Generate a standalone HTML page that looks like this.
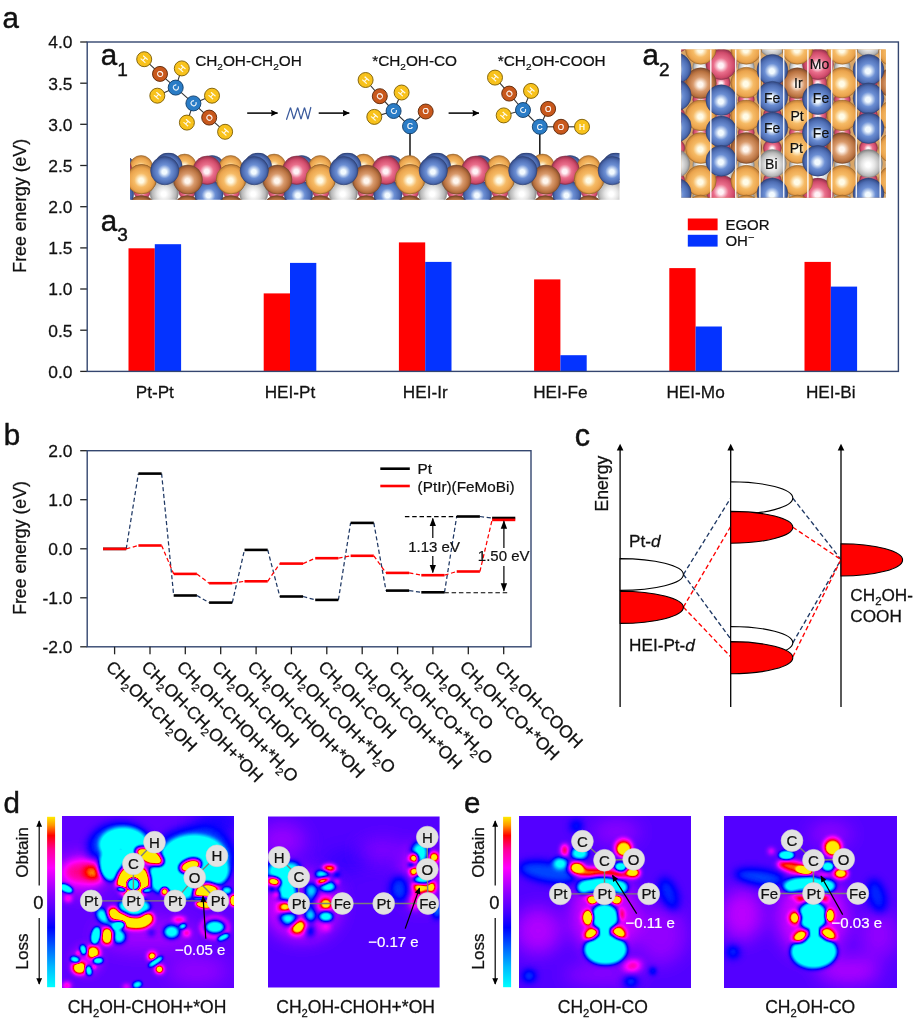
<!DOCTYPE html><html><head><meta charset="utf-8"><title>Figure</title>
<style>html,body{margin:0;padding:0;background:#fff}svg{display:block}text{font-family:"Liberation Sans", sans-serif;fill:#111;stroke:#111;stroke-width:0.015em}</style></head><body>
<svg width="915" height="1024" viewBox="0 0 915 1024">
<rect width="915" height="1024" fill="#fff"/>
<defs>
<radialGradient id="gPt" cx="0.5" cy="0.52" r="0.5" fx="0.48" fy="0.55"><stop offset="0" stop-color="#fffbe6"/><stop offset="0.16" stop-color="#fffbe6"/><stop offset="0.48" stop-color="#f6bb66"/><stop offset="0.82" stop-color="#eaa34c"/><stop offset="1" stop-color="#c0803a"/></radialGradient>
<radialGradient id="gIr" cx="0.5" cy="0.52" r="0.5" fx="0.48" fy="0.55"><stop offset="0" stop-color="#fff6ee"/><stop offset="0.16" stop-color="#fff6ee"/><stop offset="0.48" stop-color="#d99a6c"/><stop offset="0.82" stop-color="#b8713f"/><stop offset="1" stop-color="#8a5230"/></radialGradient>
<radialGradient id="gFe" cx="0.5" cy="0.52" r="0.5" fx="0.48" fy="0.55"><stop offset="0" stop-color="#f2faff"/><stop offset="0.16" stop-color="#f2faff"/><stop offset="0.48" stop-color="#6c8fd4"/><stop offset="0.82" stop-color="#4d6cb2"/><stop offset="1" stop-color="#364d88"/></radialGradient>
<radialGradient id="gMo" cx="0.5" cy="0.52" r="0.5" fx="0.48" fy="0.55"><stop offset="0" stop-color="#fff2f6"/><stop offset="0.16" stop-color="#fff2f6"/><stop offset="0.48" stop-color="#ea6f8c"/><stop offset="0.82" stop-color="#cf4a6a"/><stop offset="1" stop-color="#9a3550"/></radialGradient>
<radialGradient id="gBi" cx="0.5" cy="0.52" r="0.5" fx="0.48" fy="0.55"><stop offset="0" stop-color="#ffffff"/><stop offset="0.16" stop-color="#ffffff"/><stop offset="0.48" stop-color="#e4e4e4"/><stop offset="0.82" stop-color="#b9b9b9"/><stop offset="1" stop-color="#8c8c8c"/></radialGradient>
<marker id="ah" viewBox="0 0 10 10" refX="9" refY="5" markerWidth="7" markerHeight="7" orient="auto-start-reverse"><path d="M0,1.2 L10,5 L0,8.8 Z" fill="#000"/></marker>
<marker id="aha" viewBox="0 0 10 10" refX="9.5" refY="5" markerUnits="userSpaceOnUse" markerWidth="7" markerHeight="7" orient="auto"><path d="M0,0.3 L10,5 L0,9.7 L1.2,5 Z" fill="#000"/></marker>
<clipPath id="clipSlab"><rect x="130" y="152.8" width="489.5" height="47"/></clipPath>
<clipPath id="clipTop"><rect x="681.2" y="49.4" width="204.6" height="148.3"/></clipPath>
</defs>
<g id="panelA">
<text x="2.6" y="27.6" font-size="29.5" text-anchor="start" >a</text>
<text transform="translate(25.8,205.8) rotate(-90)" font-size="17.7" text-anchor="middle">Free energy (eV)</text>
<line x1="80.2" y1="371.4" x2="87.2" y2="371.4" stroke="#222" stroke-width="1.3"/>
<text x="72.5" y="377.8" font-size="17.4" text-anchor="end" >0.0</text>
<line x1="80.2" y1="330.2" x2="87.2" y2="330.2" stroke="#222" stroke-width="1.3"/>
<text x="72.5" y="336.6" font-size="17.4" text-anchor="end" >0.5</text>
<line x1="80.2" y1="289.0" x2="87.2" y2="289.0" stroke="#222" stroke-width="1.3"/>
<text x="72.5" y="295.4" font-size="17.4" text-anchor="end" >1.0</text>
<line x1="80.2" y1="247.9" x2="87.2" y2="247.9" stroke="#222" stroke-width="1.3"/>
<text x="72.5" y="254.3" font-size="17.4" text-anchor="end" >1.5</text>
<line x1="80.2" y1="206.7" x2="87.2" y2="206.7" stroke="#222" stroke-width="1.3"/>
<text x="72.5" y="213.1" font-size="17.4" text-anchor="end" >2.0</text>
<line x1="80.2" y1="165.5" x2="87.2" y2="165.5" stroke="#222" stroke-width="1.3"/>
<text x="72.5" y="171.9" font-size="17.4" text-anchor="end" >2.5</text>
<line x1="80.2" y1="124.3" x2="87.2" y2="124.3" stroke="#222" stroke-width="1.3"/>
<text x="72.5" y="130.8" font-size="17.4" text-anchor="end" >3.0</text>
<line x1="80.2" y1="83.2" x2="87.2" y2="83.2" stroke="#222" stroke-width="1.3"/>
<text x="72.5" y="89.6" font-size="17.4" text-anchor="end" >3.5</text>
<line x1="80.2" y1="42.0" x2="87.2" y2="42.0" stroke="#222" stroke-width="1.3"/>
<text x="72.5" y="48.4" font-size="17.4" text-anchor="end" >4.0</text>
<rect x="128.5" y="248.3" width="26.3" height="123.1" fill="#ff0000"/>
<rect x="154.8" y="244.2" width="26.3" height="127.2" fill="#0433ff"/>
<text x="154.8" y="397.6" font-size="17.2" text-anchor="middle" >Pt-Pt</text>
<rect x="263.7" y="293.4" width="26.3" height="78.0" fill="#ff0000"/>
<rect x="290.0" y="262.9" width="26.3" height="108.5" fill="#0433ff"/>
<text x="290.0" y="397.6" font-size="17.2" text-anchor="middle" >HEI-Pt</text>
<rect x="398.9" y="242.4" width="26.3" height="129.0" fill="#ff0000"/>
<rect x="425.2" y="261.9" width="26.3" height="109.5" fill="#0433ff"/>
<text x="425.2" y="397.6" font-size="17.2" text-anchor="middle" >HEI-Ir</text>
<rect x="534.1" y="279.4" width="26.3" height="92.0" fill="#ff0000"/>
<rect x="560.4" y="355.2" width="26.3" height="16.2" fill="#0433ff"/>
<text x="560.4" y="397.6" font-size="17.2" text-anchor="middle" >HEI-Fe</text>
<rect x="669.3" y="268.1" width="26.3" height="103.3" fill="#ff0000"/>
<rect x="695.6" y="326.5" width="26.3" height="44.9" fill="#0433ff"/>
<text x="695.6" y="397.6" font-size="17.2" text-anchor="middle" >HEI-Mo</text>
<rect x="804.5" y="261.9" width="26.3" height="109.5" fill="#ff0000"/>
<rect x="830.8" y="286.6" width="26.3" height="84.8" fill="#0433ff"/>
<text x="830.8" y="397.6" font-size="17.2" text-anchor="middle" >HEI-Bi</text>
<rect x="87.2" y="42.0" width="811.1999999999999" height="329.4" fill="none" stroke="#34466f" stroke-width="1.4"/>
<rect x="687.8" y="218.5" width="29.8" height="11.8" fill="#ff0000"/>
<rect x="687.8" y="234.8" width="29.8" height="11.8" fill="#0433ff"/>
<text x="725.4" y="229.9" font-size="15" text-anchor="start" >EGOR</text>
<text x="725.4" y="246.3" font-size="15" text-anchor="start" >OH<tspan dy="-5" font-size="11">−</tspan></text>
<text x="100.8" y="65.4" font-size="29.5" text-anchor="start" >a<tspan dy="10.5" font-size="19">1</tspan></text>
<text x="642.6" y="65.4" font-size="29.5" text-anchor="start" >a<tspan dy="10.5" font-size="19">2</tspan></text>
<text x="100.8" y="230.8" font-size="29.5" text-anchor="start" >a<tspan dy="10.5" font-size="19">3</tspan></text>
<text x="195.2" y="66.4" font-size="15.35" text-anchor="start" >CH<tspan dy="3.2" font-size="65%">2</tspan><tspan dy="-3.2">OH-CH</tspan><tspan dy="3.2" font-size="65%">2</tspan><tspan dy="-3.2">OH</tspan></text>
<text x="372.2" y="66.4" font-size="15.35" text-anchor="start" >*CH<tspan dy="3.2" font-size="65%">2</tspan><tspan dy="-3.2">OH-CO</tspan></text>
<text x="497.8" y="66.4" font-size="15.35" text-anchor="start" >*CH<tspan dy="3.2" font-size="65%">2</tspan><tspan dy="-3.2">OH-COOH</tspan></text>
<line x1="247.2" y1="113.1" x2="277.6" y2="113.1" stroke="#000" stroke-width="1.5" marker-end="url(#aha)"/>
<line x1="318.7" y1="113.1" x2="349.3" y2="113.1" stroke="#000" stroke-width="1.5" marker-end="url(#aha)"/>
<line x1="448.6" y1="113.1" x2="479.0" y2="113.1" stroke="#000" stroke-width="1.5" marker-end="url(#aha)"/>
<path d="M286.6,119.3 L289.80,109.62 Q290.50,106.30 291.09,109.62 L293.21,117.18 Q293.80,120.50 294.50,117.18 L297.00,109.62 Q297.70,106.30 298.29,109.62 L300.41,117.18 Q301.00,120.50 301.63,117.18 L303.87,109.62 Q304.50,106.30 305.11,109.62 L307.29,117.18 Q307.90,120.50 308.42,117.18 L310.8,107.5" fill="none" stroke="#3a5a9c" stroke-width="1.25" stroke-linejoin="round" stroke-linecap="round"/>
<line x1="144.2" y1="59.2" x2="160" y2="73.9" stroke="#333" stroke-width="1.1"/>
<line x1="160" y1="73.9" x2="175.7" y2="87.6" stroke="#333" stroke-width="1.1"/>
<line x1="181.8" y1="68.4" x2="175.7" y2="87.6" stroke="#333" stroke-width="1.1"/>
<line x1="157.3" y1="95.7" x2="175.7" y2="87.6" stroke="#333" stroke-width="1.1"/>
<line x1="175.7" y1="87.6" x2="193.4" y2="103.4" stroke="#333" stroke-width="1.1"/>
<line x1="193.4" y1="103.4" x2="212" y2="95.7" stroke="#333" stroke-width="1.1"/>
<line x1="193.4" y1="103.4" x2="186.9" y2="122.6" stroke="#333" stroke-width="1.1"/>
<line x1="193.4" y1="103.4" x2="209.2" y2="117.6" stroke="#333" stroke-width="1.1"/>
<line x1="209.2" y1="117.6" x2="225.1" y2="131.8" stroke="#333" stroke-width="1.1"/>
<circle cx="144.2" cy="59.2" r="7.5" fill="#f8c21c" stroke="#7a5a00" stroke-width="0.9"/>
<text transform="translate(144.2,59.2) rotate(-50)" y="2.9" font-size="8.2" text-anchor="middle" style="fill:#fff;stroke:#fff;stroke-width:0.2px">H</text>
<circle cx="160" cy="73.9" r="7.5" fill="#c8581c" stroke="#5a2506" stroke-width="0.9"/>
<text transform="translate(160,73.9) rotate(-50)" y="2.9" font-size="8.2" text-anchor="middle" style="fill:#fff;stroke:#fff;stroke-width:0.2px">O</text>
<circle cx="181.8" cy="68.4" r="7.5" fill="#f8c21c" stroke="#7a5a00" stroke-width="0.9"/>
<text transform="translate(181.8,68.4) rotate(-50)" y="2.9" font-size="8.2" text-anchor="middle" style="fill:#fff;stroke:#fff;stroke-width:0.2px">H</text>
<circle cx="175.7" cy="87.6" r="7.5" fill="#2a7cc6" stroke="#0f3b66" stroke-width="0.9"/>
<text transform="translate(175.7,87.6) rotate(-50)" y="2.9" font-size="8.2" text-anchor="middle" style="fill:#fff;stroke:#fff;stroke-width:0.2px">C</text>
<circle cx="157.3" cy="95.7" r="7.5" fill="#f8c21c" stroke="#7a5a00" stroke-width="0.9"/>
<text transform="translate(157.3,95.7) rotate(-50)" y="2.9" font-size="8.2" text-anchor="middle" style="fill:#fff;stroke:#fff;stroke-width:0.2px">H</text>
<circle cx="193.4" cy="103.4" r="7.5" fill="#2a7cc6" stroke="#0f3b66" stroke-width="0.9"/>
<text transform="translate(193.4,103.4) rotate(-50)" y="2.9" font-size="8.2" text-anchor="middle" style="fill:#fff;stroke:#fff;stroke-width:0.2px">C</text>
<circle cx="212" cy="95.7" r="7.5" fill="#f8c21c" stroke="#7a5a00" stroke-width="0.9"/>
<text transform="translate(212,95.7) rotate(-50)" y="2.9" font-size="8.2" text-anchor="middle" style="fill:#fff;stroke:#fff;stroke-width:0.2px">H</text>
<circle cx="186.9" cy="122.6" r="7.5" fill="#f8c21c" stroke="#7a5a00" stroke-width="0.9"/>
<text transform="translate(186.9,122.6) rotate(-50)" y="2.9" font-size="8.2" text-anchor="middle" style="fill:#fff;stroke:#fff;stroke-width:0.2px">H</text>
<circle cx="209.2" cy="117.6" r="7.5" fill="#c8581c" stroke="#5a2506" stroke-width="0.9"/>
<text transform="translate(209.2,117.6) rotate(-50)" y="2.9" font-size="8.2" text-anchor="middle" style="fill:#fff;stroke:#fff;stroke-width:0.2px">O</text>
<circle cx="225.1" cy="131.8" r="7.5" fill="#f8c21c" stroke="#7a5a00" stroke-width="0.9"/>
<text transform="translate(225.1,131.8) rotate(-50)" y="2.9" font-size="8.2" text-anchor="middle" style="fill:#fff;stroke:#fff;stroke-width:0.2px">H</text>
<line x1="410" y1="126" x2="410" y2="160" stroke="#222" stroke-width="1.6"/>
<line x1="365.6" y1="80" x2="379.8" y2="96.2" stroke="#333" stroke-width="1.1"/>
<line x1="379.8" y1="96.2" x2="393.6" y2="111" stroke="#333" stroke-width="1.1"/>
<line x1="401.6" y1="92.5" x2="393.6" y2="111" stroke="#333" stroke-width="1.1"/>
<line x1="374.3" y1="116.9" x2="393.6" y2="111" stroke="#333" stroke-width="1.1"/>
<line x1="393.6" y1="111" x2="410" y2="126.3" stroke="#333" stroke-width="1.1"/>
<line x1="410" y1="126.3" x2="425.7" y2="111.5" stroke="#333" stroke-width="1.1"/>
<circle cx="365.6" cy="80" r="7.5" fill="#f8c21c" stroke="#7a5a00" stroke-width="0.9"/>
<text transform="translate(365.6,80) rotate(-50)" y="2.9" font-size="8.2" text-anchor="middle" style="fill:#fff;stroke:#fff;stroke-width:0.2px">H</text>
<circle cx="379.8" cy="96.2" r="7.5" fill="#c8581c" stroke="#5a2506" stroke-width="0.9"/>
<text transform="translate(379.8,96.2) rotate(-50)" y="2.9" font-size="8.2" text-anchor="middle" style="fill:#fff;stroke:#fff;stroke-width:0.2px">O</text>
<circle cx="401.6" cy="92.5" r="7.5" fill="#f8c21c" stroke="#7a5a00" stroke-width="0.9"/>
<text transform="translate(401.6,92.5) rotate(-50)" y="2.9" font-size="8.2" text-anchor="middle" style="fill:#fff;stroke:#fff;stroke-width:0.2px">H</text>
<circle cx="393.6" cy="111" r="7.5" fill="#2a7cc6" stroke="#0f3b66" stroke-width="0.9"/>
<text transform="translate(393.6,111) rotate(-50)" y="2.9" font-size="8.2" text-anchor="middle" style="fill:#fff;stroke:#fff;stroke-width:0.2px">C</text>
<circle cx="374.3" cy="116.9" r="7.5" fill="#f8c21c" stroke="#7a5a00" stroke-width="0.9"/>
<text transform="translate(374.3,116.9) rotate(-50)" y="2.9" font-size="8.2" text-anchor="middle" style="fill:#fff;stroke:#fff;stroke-width:0.2px">H</text>
<circle cx="410" cy="126.3" r="7.5" fill="#2a7cc6" stroke="#0f3b66" stroke-width="0.9"/>
<text transform="translate(410,126.3) rotate(0)" y="2.9" font-size="8.2" text-anchor="middle" style="fill:#fff;stroke:#fff;stroke-width:0.2px">C</text>
<circle cx="425.7" cy="111.5" r="7.5" fill="#c8581c" stroke="#5a2506" stroke-width="0.9"/>
<text transform="translate(425.7,111.5) rotate(0)" y="2.9" font-size="8.2" text-anchor="middle" style="fill:#fff;stroke:#fff;stroke-width:0.2px">O</text>
<line x1="539.8" y1="126" x2="539.8" y2="160" stroke="#222" stroke-width="1.6"/>
<line x1="495" y1="77.6" x2="509.2" y2="93.6" stroke="#333" stroke-width="1.1"/>
<line x1="509.2" y1="93.6" x2="523" y2="110" stroke="#333" stroke-width="1.1"/>
<line x1="531" y1="90.9" x2="523" y2="110" stroke="#333" stroke-width="1.1"/>
<line x1="503.7" y1="115.4" x2="523" y2="110" stroke="#333" stroke-width="1.1"/>
<line x1="523" y1="110" x2="539.8" y2="126.8" stroke="#333" stroke-width="1.1"/>
<line x1="548.1" y1="108.9" x2="539.8" y2="126.8" stroke="#333" stroke-width="1.1"/>
<line x1="539.8" y1="126.8" x2="561" y2="126.8" stroke="#333" stroke-width="1.1"/>
<line x1="561" y1="126.8" x2="582" y2="126.8" stroke="#333" stroke-width="1.1"/>
<circle cx="495" cy="77.6" r="7.5" fill="#f8c21c" stroke="#7a5a00" stroke-width="0.9"/>
<text transform="translate(495,77.6) rotate(-50)" y="2.9" font-size="8.2" text-anchor="middle" style="fill:#fff;stroke:#fff;stroke-width:0.2px">H</text>
<circle cx="509.2" cy="93.6" r="7.5" fill="#c8581c" stroke="#5a2506" stroke-width="0.9"/>
<text transform="translate(509.2,93.6) rotate(-50)" y="2.9" font-size="8.2" text-anchor="middle" style="fill:#fff;stroke:#fff;stroke-width:0.2px">O</text>
<circle cx="531" cy="90.9" r="7.5" fill="#f8c21c" stroke="#7a5a00" stroke-width="0.9"/>
<text transform="translate(531,90.9) rotate(-50)" y="2.9" font-size="8.2" text-anchor="middle" style="fill:#fff;stroke:#fff;stroke-width:0.2px">H</text>
<circle cx="523" cy="110" r="7.5" fill="#2a7cc6" stroke="#0f3b66" stroke-width="0.9"/>
<text transform="translate(523,110) rotate(-50)" y="2.9" font-size="8.2" text-anchor="middle" style="fill:#fff;stroke:#fff;stroke-width:0.2px">C</text>
<circle cx="503.7" cy="115.4" r="7.5" fill="#f8c21c" stroke="#7a5a00" stroke-width="0.9"/>
<text transform="translate(503.7,115.4) rotate(-50)" y="2.9" font-size="8.2" text-anchor="middle" style="fill:#fff;stroke:#fff;stroke-width:0.2px">H</text>
<circle cx="548.1" cy="108.9" r="7.5" fill="#c8581c" stroke="#5a2506" stroke-width="0.9"/>
<text transform="translate(548.1,108.9) rotate(0)" y="2.9" font-size="8.2" text-anchor="middle" style="fill:#fff;stroke:#fff;stroke-width:0.2px">O</text>
<circle cx="539.8" cy="126.8" r="7.5" fill="#2a7cc6" stroke="#0f3b66" stroke-width="0.9"/>
<text transform="translate(539.8,126.8) rotate(0)" y="2.9" font-size="8.2" text-anchor="middle" style="fill:#fff;stroke:#fff;stroke-width:0.2px">C</text>
<circle cx="561" cy="126.8" r="7.5" fill="#c8581c" stroke="#5a2506" stroke-width="0.9"/>
<text transform="translate(561,126.8) rotate(0)" y="2.9" font-size="8.2" text-anchor="middle" style="fill:#fff;stroke:#fff;stroke-width:0.2px">O</text>
<circle cx="582" cy="126.8" r="7.5" fill="#f8c21c" stroke="#7a5a00" stroke-width="0.9"/>
<text transform="translate(582,126.8) rotate(0)" y="2.9" font-size="8.2" text-anchor="middle" style="fill:#fff;stroke:#fff;stroke-width:0.2px">H</text>
<g clip-path="url(#clipSlab)">
<circle cx="52.6" cy="191.0" r="8.5" fill="url(#gMo)" stroke="#7d2b42" stroke-width="0.5"/>
<circle cx="97.6" cy="191.0" r="8.5" fill="url(#gMo)" stroke="#7d2b42" stroke-width="0.5"/>
<circle cx="142.1" cy="191.0" r="8.5" fill="url(#gMo)" stroke="#7d2b42" stroke-width="0.5"/>
<circle cx="187.1" cy="191.0" r="8.5" fill="url(#gMo)" stroke="#7d2b42" stroke-width="0.5"/>
<circle cx="231.6" cy="191.0" r="8.5" fill="url(#gMo)" stroke="#7d2b42" stroke-width="0.5"/>
<circle cx="276.6" cy="191.0" r="8.5" fill="url(#gMo)" stroke="#7d2b42" stroke-width="0.5"/>
<circle cx="321.1" cy="191.0" r="8.5" fill="url(#gMo)" stroke="#7d2b42" stroke-width="0.5"/>
<circle cx="366.1" cy="191.0" r="8.5" fill="url(#gMo)" stroke="#7d2b42" stroke-width="0.5"/>
<circle cx="410.6" cy="191.0" r="8.5" fill="url(#gMo)" stroke="#7d2b42" stroke-width="0.5"/>
<circle cx="455.6" cy="191.0" r="8.5" fill="url(#gMo)" stroke="#7d2b42" stroke-width="0.5"/>
<circle cx="500.1" cy="191.0" r="8.5" fill="url(#gMo)" stroke="#7d2b42" stroke-width="0.5"/>
<circle cx="545.1" cy="191.0" r="8.5" fill="url(#gMo)" stroke="#7d2b42" stroke-width="0.5"/>
<circle cx="589.6" cy="191.0" r="8.5" fill="url(#gMo)" stroke="#7d2b42" stroke-width="0.5"/>
<circle cx="634.6" cy="191.0" r="8.5" fill="url(#gMo)" stroke="#7d2b42" stroke-width="0.5"/>
<circle cx="679.1" cy="191.0" r="8.5" fill="url(#gMo)" stroke="#7d2b42" stroke-width="0.5"/>
<circle cx="724.1" cy="191.0" r="8.5" fill="url(#gMo)" stroke="#7d2b42" stroke-width="0.5"/>
<circle cx="51.1" cy="210.0" r="14.2" fill="url(#gIr)" stroke="#6e4227" stroke-width="0.5"/>
<circle cx="98.1" cy="210.0" r="14.2" fill="url(#gIr)" stroke="#6e4227" stroke-width="0.5"/>
<circle cx="142.1" cy="210.0" r="14.2" fill="url(#gIr)" stroke="#6e4227" stroke-width="0.5"/>
<circle cx="8.1" cy="210.0" r="14.2" fill="url(#gIr)" stroke="#6e4227" stroke-width="0.5"/>
<circle cx="140.6" cy="210.0" r="14.2" fill="url(#gIr)" stroke="#6e4227" stroke-width="0.5"/>
<circle cx="187.6" cy="210.0" r="14.2" fill="url(#gIr)" stroke="#6e4227" stroke-width="0.5"/>
<circle cx="231.6" cy="210.0" r="14.2" fill="url(#gIr)" stroke="#6e4227" stroke-width="0.5"/>
<circle cx="97.6" cy="210.0" r="14.2" fill="url(#gIr)" stroke="#6e4227" stroke-width="0.5"/>
<circle cx="230.1" cy="210.0" r="14.2" fill="url(#gIr)" stroke="#6e4227" stroke-width="0.5"/>
<circle cx="277.1" cy="210.0" r="14.2" fill="url(#gIr)" stroke="#6e4227" stroke-width="0.5"/>
<circle cx="321.1" cy="210.0" r="14.2" fill="url(#gIr)" stroke="#6e4227" stroke-width="0.5"/>
<circle cx="187.1" cy="210.0" r="14.2" fill="url(#gIr)" stroke="#6e4227" stroke-width="0.5"/>
<circle cx="319.6" cy="210.0" r="14.2" fill="url(#gIr)" stroke="#6e4227" stroke-width="0.5"/>
<circle cx="366.6" cy="210.0" r="14.2" fill="url(#gIr)" stroke="#6e4227" stroke-width="0.5"/>
<circle cx="410.6" cy="210.0" r="14.2" fill="url(#gIr)" stroke="#6e4227" stroke-width="0.5"/>
<circle cx="276.6" cy="210.0" r="14.2" fill="url(#gIr)" stroke="#6e4227" stroke-width="0.5"/>
<circle cx="409.1" cy="210.0" r="14.2" fill="url(#gIr)" stroke="#6e4227" stroke-width="0.5"/>
<circle cx="456.1" cy="210.0" r="14.2" fill="url(#gIr)" stroke="#6e4227" stroke-width="0.5"/>
<circle cx="500.1" cy="210.0" r="14.2" fill="url(#gIr)" stroke="#6e4227" stroke-width="0.5"/>
<circle cx="366.1" cy="210.0" r="14.2" fill="url(#gIr)" stroke="#6e4227" stroke-width="0.5"/>
<circle cx="498.6" cy="210.0" r="14.2" fill="url(#gIr)" stroke="#6e4227" stroke-width="0.5"/>
<circle cx="545.6" cy="210.0" r="14.2" fill="url(#gIr)" stroke="#6e4227" stroke-width="0.5"/>
<circle cx="589.6" cy="210.0" r="14.2" fill="url(#gIr)" stroke="#6e4227" stroke-width="0.5"/>
<circle cx="455.6" cy="210.0" r="14.2" fill="url(#gIr)" stroke="#6e4227" stroke-width="0.5"/>
<circle cx="588.1" cy="210.0" r="14.2" fill="url(#gIr)" stroke="#6e4227" stroke-width="0.5"/>
<circle cx="635.1" cy="210.0" r="14.2" fill="url(#gIr)" stroke="#6e4227" stroke-width="0.5"/>
<circle cx="679.1" cy="210.0" r="14.2" fill="url(#gIr)" stroke="#6e4227" stroke-width="0.5"/>
<circle cx="545.1" cy="210.0" r="14.2" fill="url(#gIr)" stroke="#6e4227" stroke-width="0.5"/>
<circle cx="677.6" cy="210.0" r="14.2" fill="url(#gIr)" stroke="#6e4227" stroke-width="0.5"/>
<circle cx="724.6" cy="210.0" r="14.2" fill="url(#gIr)" stroke="#6e4227" stroke-width="0.5"/>
<circle cx="768.6" cy="210.0" r="14.2" fill="url(#gIr)" stroke="#6e4227" stroke-width="0.5"/>
<circle cx="634.6" cy="210.0" r="14.2" fill="url(#gIr)" stroke="#6e4227" stroke-width="0.5"/>
<circle cx="74.7" cy="192.8" r="14.2" fill="url(#gBi)" stroke="#808080" stroke-width="0.5"/>
<circle cx="119.4" cy="194.2" r="14.2" fill="url(#gFe)" stroke="#2a3b6b" stroke-width="0.5"/>
<circle cx="164.2" cy="192.8" r="14.2" fill="url(#gBi)" stroke="#808080" stroke-width="0.5"/>
<circle cx="208.9" cy="194.2" r="14.2" fill="url(#gFe)" stroke="#2a3b6b" stroke-width="0.5"/>
<circle cx="253.7" cy="192.8" r="14.2" fill="url(#gBi)" stroke="#808080" stroke-width="0.5"/>
<circle cx="298.4" cy="194.2" r="14.2" fill="url(#gFe)" stroke="#2a3b6b" stroke-width="0.5"/>
<circle cx="343.2" cy="192.8" r="14.2" fill="url(#gBi)" stroke="#808080" stroke-width="0.5"/>
<circle cx="387.9" cy="194.2" r="14.2" fill="url(#gFe)" stroke="#2a3b6b" stroke-width="0.5"/>
<circle cx="432.7" cy="192.8" r="14.2" fill="url(#gBi)" stroke="#808080" stroke-width="0.5"/>
<circle cx="477.4" cy="194.2" r="14.2" fill="url(#gFe)" stroke="#2a3b6b" stroke-width="0.5"/>
<circle cx="522.2" cy="192.8" r="14.2" fill="url(#gBi)" stroke="#808080" stroke-width="0.5"/>
<circle cx="566.9" cy="194.2" r="14.2" fill="url(#gFe)" stroke="#2a3b6b" stroke-width="0.5"/>
<circle cx="611.7" cy="192.8" r="14.2" fill="url(#gBi)" stroke="#808080" stroke-width="0.5"/>
<circle cx="656.4" cy="194.2" r="14.2" fill="url(#gFe)" stroke="#2a3b6b" stroke-width="0.5"/>
<circle cx="701.2" cy="192.8" r="14.2" fill="url(#gBi)" stroke="#808080" stroke-width="0.5"/>
<circle cx="745.9" cy="194.2" r="14.2" fill="url(#gFe)" stroke="#2a3b6b" stroke-width="0.5"/>
<circle cx="51.6" cy="167.0" r="11.5" fill="url(#gPt)" stroke="#8a5a22" stroke-width="0.5"/>
<circle cx="95.1" cy="165.6" r="11.5" fill="url(#gPt)" stroke="#8a5a22" stroke-width="0.5"/>
<circle cx="78.9" cy="166.6" r="13.8" fill="url(#gFe)" stroke="#2a3b6b" stroke-width="0.5"/>
<circle cx="122.6" cy="168.0" r="12.5" fill="url(#gFe)" stroke="#2a3b6b" stroke-width="0.5"/>
<circle cx="141.1" cy="167.0" r="11.5" fill="url(#gPt)" stroke="#8a5a22" stroke-width="0.5"/>
<circle cx="184.6" cy="165.6" r="11.5" fill="url(#gPt)" stroke="#8a5a22" stroke-width="0.5"/>
<circle cx="168.4" cy="166.6" r="13.8" fill="url(#gFe)" stroke="#2a3b6b" stroke-width="0.5"/>
<circle cx="212.1" cy="168.0" r="12.5" fill="url(#gFe)" stroke="#2a3b6b" stroke-width="0.5"/>
<circle cx="230.6" cy="167.0" r="11.5" fill="url(#gPt)" stroke="#8a5a22" stroke-width="0.5"/>
<circle cx="274.1" cy="165.6" r="11.5" fill="url(#gPt)" stroke="#8a5a22" stroke-width="0.5"/>
<circle cx="257.9" cy="166.6" r="13.8" fill="url(#gFe)" stroke="#2a3b6b" stroke-width="0.5"/>
<circle cx="301.6" cy="168.0" r="12.5" fill="url(#gFe)" stroke="#2a3b6b" stroke-width="0.5"/>
<circle cx="320.1" cy="167.0" r="11.5" fill="url(#gPt)" stroke="#8a5a22" stroke-width="0.5"/>
<circle cx="363.6" cy="165.6" r="11.5" fill="url(#gPt)" stroke="#8a5a22" stroke-width="0.5"/>
<circle cx="347.4" cy="166.6" r="13.8" fill="url(#gFe)" stroke="#2a3b6b" stroke-width="0.5"/>
<circle cx="391.1" cy="168.0" r="12.5" fill="url(#gFe)" stroke="#2a3b6b" stroke-width="0.5"/>
<circle cx="409.6" cy="167.0" r="11.5" fill="url(#gPt)" stroke="#8a5a22" stroke-width="0.5"/>
<circle cx="453.1" cy="165.6" r="11.5" fill="url(#gPt)" stroke="#8a5a22" stroke-width="0.5"/>
<circle cx="436.9" cy="166.6" r="13.8" fill="url(#gFe)" stroke="#2a3b6b" stroke-width="0.5"/>
<circle cx="480.6" cy="168.0" r="12.5" fill="url(#gFe)" stroke="#2a3b6b" stroke-width="0.5"/>
<circle cx="499.1" cy="167.0" r="11.5" fill="url(#gPt)" stroke="#8a5a22" stroke-width="0.5"/>
<circle cx="542.6" cy="165.6" r="11.5" fill="url(#gPt)" stroke="#8a5a22" stroke-width="0.5"/>
<circle cx="526.4" cy="166.6" r="13.8" fill="url(#gFe)" stroke="#2a3b6b" stroke-width="0.5"/>
<circle cx="570.1" cy="168.0" r="12.5" fill="url(#gFe)" stroke="#2a3b6b" stroke-width="0.5"/>
<circle cx="588.6" cy="167.0" r="11.5" fill="url(#gPt)" stroke="#8a5a22" stroke-width="0.5"/>
<circle cx="632.1" cy="165.6" r="11.5" fill="url(#gPt)" stroke="#8a5a22" stroke-width="0.5"/>
<circle cx="615.9" cy="166.6" r="13.8" fill="url(#gFe)" stroke="#2a3b6b" stroke-width="0.5"/>
<circle cx="659.6" cy="168.0" r="12.5" fill="url(#gFe)" stroke="#2a3b6b" stroke-width="0.5"/>
<circle cx="678.1" cy="167.0" r="11.5" fill="url(#gPt)" stroke="#8a5a22" stroke-width="0.5"/>
<circle cx="721.6" cy="165.6" r="11.5" fill="url(#gPt)" stroke="#8a5a22" stroke-width="0.5"/>
<circle cx="705.4" cy="166.6" r="13.8" fill="url(#gFe)" stroke="#2a3b6b" stroke-width="0.5"/>
<circle cx="749.1" cy="168.0" r="12.5" fill="url(#gFe)" stroke="#2a3b6b" stroke-width="0.5"/>
<circle cx="117.7" cy="170.2" r="14.2" fill="url(#gMo)" stroke="#7d2b42" stroke-width="0.5"/>
<circle cx="52.1" cy="179.2" r="14.7" fill="url(#gPt)" stroke="#8a5a22" stroke-width="0.5"/>
<circle cx="141.6" cy="179.2" r="14.7" fill="url(#gPt)" stroke="#8a5a22" stroke-width="0.5"/>
<circle cx="98.4" cy="179.6" r="14.6" fill="url(#gIr)" stroke="#6e4227" stroke-width="0.5"/>
<circle cx="75.3" cy="170.6" r="14.2" fill="url(#gFe)" stroke="#2a3b6b" stroke-width="0.5"/>
<circle cx="207.2" cy="170.2" r="14.2" fill="url(#gMo)" stroke="#7d2b42" stroke-width="0.5"/>
<circle cx="141.6" cy="179.2" r="14.7" fill="url(#gPt)" stroke="#8a5a22" stroke-width="0.5"/>
<circle cx="231.1" cy="179.2" r="14.7" fill="url(#gPt)" stroke="#8a5a22" stroke-width="0.5"/>
<circle cx="187.9" cy="179.6" r="14.6" fill="url(#gIr)" stroke="#6e4227" stroke-width="0.5"/>
<circle cx="164.8" cy="170.6" r="14.2" fill="url(#gFe)" stroke="#2a3b6b" stroke-width="0.5"/>
<circle cx="296.7" cy="170.2" r="14.2" fill="url(#gMo)" stroke="#7d2b42" stroke-width="0.5"/>
<circle cx="231.1" cy="179.2" r="14.7" fill="url(#gPt)" stroke="#8a5a22" stroke-width="0.5"/>
<circle cx="320.6" cy="179.2" r="14.7" fill="url(#gPt)" stroke="#8a5a22" stroke-width="0.5"/>
<circle cx="277.4" cy="179.6" r="14.6" fill="url(#gIr)" stroke="#6e4227" stroke-width="0.5"/>
<circle cx="254.3" cy="170.6" r="14.2" fill="url(#gFe)" stroke="#2a3b6b" stroke-width="0.5"/>
<circle cx="386.2" cy="170.2" r="14.2" fill="url(#gMo)" stroke="#7d2b42" stroke-width="0.5"/>
<circle cx="320.6" cy="179.2" r="14.7" fill="url(#gPt)" stroke="#8a5a22" stroke-width="0.5"/>
<circle cx="410.1" cy="179.2" r="14.7" fill="url(#gPt)" stroke="#8a5a22" stroke-width="0.5"/>
<circle cx="366.9" cy="179.6" r="14.6" fill="url(#gIr)" stroke="#6e4227" stroke-width="0.5"/>
<circle cx="343.8" cy="170.6" r="14.2" fill="url(#gFe)" stroke="#2a3b6b" stroke-width="0.5"/>
<circle cx="475.7" cy="170.2" r="14.2" fill="url(#gMo)" stroke="#7d2b42" stroke-width="0.5"/>
<circle cx="410.1" cy="179.2" r="14.7" fill="url(#gPt)" stroke="#8a5a22" stroke-width="0.5"/>
<circle cx="499.6" cy="179.2" r="14.7" fill="url(#gPt)" stroke="#8a5a22" stroke-width="0.5"/>
<circle cx="456.4" cy="179.6" r="14.6" fill="url(#gIr)" stroke="#6e4227" stroke-width="0.5"/>
<circle cx="433.3" cy="170.6" r="14.2" fill="url(#gFe)" stroke="#2a3b6b" stroke-width="0.5"/>
<circle cx="565.2" cy="170.2" r="14.2" fill="url(#gMo)" stroke="#7d2b42" stroke-width="0.5"/>
<circle cx="499.6" cy="179.2" r="14.7" fill="url(#gPt)" stroke="#8a5a22" stroke-width="0.5"/>
<circle cx="589.1" cy="179.2" r="14.7" fill="url(#gPt)" stroke="#8a5a22" stroke-width="0.5"/>
<circle cx="545.9" cy="179.6" r="14.6" fill="url(#gIr)" stroke="#6e4227" stroke-width="0.5"/>
<circle cx="522.8" cy="170.6" r="14.2" fill="url(#gFe)" stroke="#2a3b6b" stroke-width="0.5"/>
<circle cx="654.7" cy="170.2" r="14.2" fill="url(#gMo)" stroke="#7d2b42" stroke-width="0.5"/>
<circle cx="589.1" cy="179.2" r="14.7" fill="url(#gPt)" stroke="#8a5a22" stroke-width="0.5"/>
<circle cx="678.6" cy="179.2" r="14.7" fill="url(#gPt)" stroke="#8a5a22" stroke-width="0.5"/>
<circle cx="635.4" cy="179.6" r="14.6" fill="url(#gIr)" stroke="#6e4227" stroke-width="0.5"/>
<circle cx="612.3" cy="170.6" r="14.2" fill="url(#gFe)" stroke="#2a3b6b" stroke-width="0.5"/>
<circle cx="744.2" cy="170.2" r="14.2" fill="url(#gMo)" stroke="#7d2b42" stroke-width="0.5"/>
<circle cx="678.6" cy="179.2" r="14.7" fill="url(#gPt)" stroke="#8a5a22" stroke-width="0.5"/>
<circle cx="768.1" cy="179.2" r="14.7" fill="url(#gPt)" stroke="#8a5a22" stroke-width="0.5"/>
<circle cx="724.9" cy="179.6" r="14.6" fill="url(#gIr)" stroke="#6e4227" stroke-width="0.5"/>
<circle cx="701.8" cy="170.6" r="14.2" fill="url(#gFe)" stroke="#2a3b6b" stroke-width="0.5"/>
</g>
<g clip-path="url(#clipTop)">
<rect x="681" y="49" width="206" height="150" fill="#d9a566"/>
<circle cx="675.8" cy="82.6" r="9" fill="url(#gMo)" stroke="#7d2b42" stroke-width="0.5"/>
<circle cx="675.8" cy="115.3" r="9" fill="url(#gMo)" stroke="#7d2b42" stroke-width="0.5"/>
<circle cx="675.8" cy="148.0" r="9" fill="url(#gMo)" stroke="#7d2b42" stroke-width="0.5"/>
<circle cx="675.8" cy="180.7" r="9" fill="url(#gMo)" stroke="#7d2b42" stroke-width="0.5"/>
<circle cx="721.3" cy="82.6" r="9" fill="url(#gMo)" stroke="#7d2b42" stroke-width="0.5"/>
<circle cx="721.3" cy="115.3" r="9" fill="url(#gMo)" stroke="#7d2b42" stroke-width="0.5"/>
<circle cx="721.3" cy="148.0" r="9" fill="url(#gMo)" stroke="#7d2b42" stroke-width="0.5"/>
<circle cx="721.3" cy="180.7" r="9" fill="url(#gMo)" stroke="#7d2b42" stroke-width="0.5"/>
<circle cx="772.4" cy="82.6" r="9" fill="url(#gMo)" stroke="#7d2b42" stroke-width="0.5"/>
<circle cx="772.4" cy="115.3" r="9" fill="url(#gMo)" stroke="#7d2b42" stroke-width="0.5"/>
<circle cx="772.4" cy="148.0" r="9" fill="url(#gMo)" stroke="#7d2b42" stroke-width="0.5"/>
<circle cx="772.4" cy="180.7" r="9" fill="url(#gMo)" stroke="#7d2b42" stroke-width="0.5"/>
<circle cx="817.9" cy="82.6" r="9" fill="url(#gMo)" stroke="#7d2b42" stroke-width="0.5"/>
<circle cx="817.9" cy="115.3" r="9" fill="url(#gMo)" stroke="#7d2b42" stroke-width="0.5"/>
<circle cx="817.9" cy="148.0" r="9" fill="url(#gMo)" stroke="#7d2b42" stroke-width="0.5"/>
<circle cx="817.9" cy="180.7" r="9" fill="url(#gMo)" stroke="#7d2b42" stroke-width="0.5"/>
<circle cx="868.5" cy="82.6" r="9" fill="url(#gMo)" stroke="#7d2b42" stroke-width="0.5"/>
<circle cx="868.5" cy="115.3" r="9" fill="url(#gMo)" stroke="#7d2b42" stroke-width="0.5"/>
<circle cx="868.5" cy="148.0" r="9" fill="url(#gMo)" stroke="#7d2b42" stroke-width="0.5"/>
<circle cx="868.5" cy="180.7" r="9" fill="url(#gMo)" stroke="#7d2b42" stroke-width="0.5"/>
<circle cx="700.8" cy="67.0" r="8" fill="url(#gBi)" stroke="#808080" stroke-width="0.5"/>
<circle cx="700.8" cy="99.7" r="8" fill="url(#gMo)" stroke="#7d2b42" stroke-width="0.5"/>
<circle cx="700.8" cy="132.4" r="8" fill="url(#gMo)" stroke="#7d2b42" stroke-width="0.5"/>
<circle cx="700.8" cy="165.0" r="8" fill="url(#gBi)" stroke="#808080" stroke-width="0.5"/>
<circle cx="700.8" cy="196.3" r="8" fill="url(#gBi)" stroke="#808080" stroke-width="0.5"/>
<circle cx="746.3" cy="67.0" r="8" fill="url(#gBi)" stroke="#808080" stroke-width="0.5"/>
<circle cx="746.3" cy="99.7" r="8" fill="url(#gMo)" stroke="#7d2b42" stroke-width="0.5"/>
<circle cx="746.3" cy="132.4" r="8" fill="url(#gMo)" stroke="#7d2b42" stroke-width="0.5"/>
<circle cx="746.3" cy="165.0" r="8" fill="url(#gBi)" stroke="#808080" stroke-width="0.5"/>
<circle cx="746.3" cy="196.3" r="8" fill="url(#gBi)" stroke="#808080" stroke-width="0.5"/>
<circle cx="797.4" cy="67.0" r="8" fill="url(#gBi)" stroke="#808080" stroke-width="0.5"/>
<circle cx="797.4" cy="99.7" r="8" fill="url(#gMo)" stroke="#7d2b42" stroke-width="0.5"/>
<circle cx="797.4" cy="132.4" r="8" fill="url(#gMo)" stroke="#7d2b42" stroke-width="0.5"/>
<circle cx="797.4" cy="165.0" r="8" fill="url(#gBi)" stroke="#808080" stroke-width="0.5"/>
<circle cx="797.4" cy="196.3" r="8" fill="url(#gBi)" stroke="#808080" stroke-width="0.5"/>
<circle cx="842.3" cy="67.0" r="8" fill="url(#gBi)" stroke="#808080" stroke-width="0.5"/>
<circle cx="842.3" cy="99.7" r="8" fill="url(#gMo)" stroke="#7d2b42" stroke-width="0.5"/>
<circle cx="842.3" cy="132.4" r="8" fill="url(#gMo)" stroke="#7d2b42" stroke-width="0.5"/>
<circle cx="842.3" cy="165.0" r="8" fill="url(#gBi)" stroke="#808080" stroke-width="0.5"/>
<circle cx="842.3" cy="196.3" r="8" fill="url(#gBi)" stroke="#808080" stroke-width="0.5"/>
<circle cx="894.0" cy="67.0" r="8" fill="url(#gBi)" stroke="#808080" stroke-width="0.5"/>
<circle cx="894.0" cy="99.7" r="8" fill="url(#gMo)" stroke="#7d2b42" stroke-width="0.5"/>
<circle cx="894.0" cy="132.4" r="8" fill="url(#gMo)" stroke="#7d2b42" stroke-width="0.5"/>
<circle cx="894.0" cy="165.0" r="8" fill="url(#gBi)" stroke="#808080" stroke-width="0.5"/>
<circle cx="894.0" cy="196.3" r="8" fill="url(#gBi)" stroke="#808080" stroke-width="0.5"/>
<circle cx="772.4" cy="42.8" r="14" fill="url(#gBi)" stroke="#808080" stroke-width="0.5"/>
<circle cx="868.5" cy="42.8" r="14" fill="url(#gBi)" stroke="#808080" stroke-width="0.5"/>
<circle cx="675.8" cy="163.6" r="14" fill="url(#gBi)" stroke="#808080" stroke-width="0.5"/>
<circle cx="772.4" cy="163.6" r="14" fill="url(#gBi)" stroke="#808080" stroke-width="0.5"/>
<circle cx="868.5" cy="163.6" r="14" fill="url(#gBi)" stroke="#808080" stroke-width="0.5"/>
<circle cx="721.3" cy="174.1" r="14" fill="url(#gBi)" stroke="#808080" stroke-width="0.5"/>
<circle cx="817.9" cy="174.1" r="14" fill="url(#gBi)" stroke="#808080" stroke-width="0.5"/>
<circle cx="675.8" cy="37.2" r="15.4" fill="url(#gMo)" stroke="#7d2b42" stroke-width="0.5"/>
<circle cx="721.3" cy="64.2" r="15.4" fill="url(#gMo)" stroke="#7d2b42" stroke-width="0.5"/>
<circle cx="817.9" cy="64.2" r="15.4" fill="url(#gMo)" stroke="#7d2b42" stroke-width="0.5"/>
<circle cx="721.3" cy="190.6" r="15.4" fill="url(#gMo)" stroke="#7d2b42" stroke-width="0.5"/>
<circle cx="817.9" cy="193.5" r="15.4" fill="url(#gMo)" stroke="#7d2b42" stroke-width="0.5"/>
<circle cx="700.8" cy="48.8" r="15.4" fill="url(#gPt)" stroke="#8a5a22" stroke-width="0.5"/>
<circle cx="746.3" cy="48.8" r="15.4" fill="url(#gPt)" stroke="#8a5a22" stroke-width="0.5"/>
<circle cx="797.4" cy="48.8" r="15.4" fill="url(#gPt)" stroke="#8a5a22" stroke-width="0.5"/>
<circle cx="842.3" cy="48.8" r="15.4" fill="url(#gPt)" stroke="#8a5a22" stroke-width="0.5"/>
<circle cx="648.5" cy="51.4" r="15.4" fill="url(#gPt)" stroke="#8a5a22" stroke-width="0.5"/>
<circle cx="894.0" cy="51.4" r="15.4" fill="url(#gPt)" stroke="#8a5a22" stroke-width="0.5"/>
<circle cx="648.5" cy="82.6" r="15.4" fill="url(#gIr)" stroke="#6e4227" stroke-width="0.5"/>
<circle cx="746.3" cy="82.6" r="15.4" fill="url(#gPt)" stroke="#8a5a22" stroke-width="0.5"/>
<circle cx="842.3" cy="82.6" r="15.4" fill="url(#gPt)" stroke="#8a5a22" stroke-width="0.5"/>
<circle cx="894.0" cy="82.6" r="15.4" fill="url(#gIr)" stroke="#6e4227" stroke-width="0.5"/>
<circle cx="700.8" cy="83.2" r="15.4" fill="url(#gIr)" stroke="#6e4227" stroke-width="0.5"/>
<circle cx="797.4" cy="83.2" r="15.4" fill="url(#gIr)" stroke="#6e4227" stroke-width="0.5"/>
<circle cx="648.5" cy="115.3" r="15.4" fill="url(#gPt)" stroke="#8a5a22" stroke-width="0.5"/>
<circle cx="700.8" cy="115.3" r="15.4" fill="url(#gPt)" stroke="#8a5a22" stroke-width="0.5"/>
<circle cx="746.3" cy="115.3" r="15.4" fill="url(#gPt)" stroke="#8a5a22" stroke-width="0.5"/>
<circle cx="797.4" cy="115.3" r="15.4" fill="url(#gPt)" stroke="#8a5a22" stroke-width="0.5"/>
<circle cx="842.3" cy="115.3" r="15.4" fill="url(#gPt)" stroke="#8a5a22" stroke-width="0.5"/>
<circle cx="894.0" cy="115.3" r="15.4" fill="url(#gPt)" stroke="#8a5a22" stroke-width="0.5"/>
<circle cx="648.5" cy="148.0" r="15.4" fill="url(#gPt)" stroke="#8a5a22" stroke-width="0.5"/>
<circle cx="700.8" cy="148.0" r="15.4" fill="url(#gPt)" stroke="#8a5a22" stroke-width="0.5"/>
<circle cx="746.3" cy="148.0" r="15.4" fill="url(#gIr)" stroke="#6e4227" stroke-width="0.5"/>
<circle cx="797.4" cy="148.0" r="15.4" fill="url(#gPt)" stroke="#8a5a22" stroke-width="0.5"/>
<circle cx="842.3" cy="148.0" r="15.4" fill="url(#gIr)" stroke="#6e4227" stroke-width="0.5"/>
<circle cx="894.0" cy="148.0" r="15.4" fill="url(#gPt)" stroke="#8a5a22" stroke-width="0.5"/>
<circle cx="648.5" cy="180.7" r="15.4" fill="url(#gPt)" stroke="#8a5a22" stroke-width="0.5"/>
<circle cx="700.8" cy="180.7" r="15.4" fill="url(#gPt)" stroke="#8a5a22" stroke-width="0.5"/>
<circle cx="746.3" cy="180.7" r="15.4" fill="url(#gPt)" stroke="#8a5a22" stroke-width="0.5"/>
<circle cx="797.4" cy="180.7" r="15.4" fill="url(#gPt)" stroke="#8a5a22" stroke-width="0.5"/>
<circle cx="842.3" cy="180.7" r="15.4" fill="url(#gPt)" stroke="#8a5a22" stroke-width="0.5"/>
<circle cx="894.0" cy="180.7" r="15.4" fill="url(#gPt)" stroke="#8a5a22" stroke-width="0.5"/>
<circle cx="700.8" cy="210.5" r="15.4" fill="url(#gPt)" stroke="#8a5a22" stroke-width="0.5"/>
<circle cx="746.3" cy="210.5" r="15.4" fill="url(#gPt)" stroke="#8a5a22" stroke-width="0.5"/>
<circle cx="797.4" cy="210.5" r="15.4" fill="url(#gPt)" stroke="#8a5a22" stroke-width="0.5"/>
<circle cx="842.3" cy="210.5" r="15.4" fill="url(#gPt)" stroke="#8a5a22" stroke-width="0.5"/>
<circle cx="675.8" cy="68.4" r="15.4" fill="url(#gFe)" stroke="#2a3b6b" stroke-width="0.5"/>
<circle cx="772.4" cy="69.8" r="15.4" fill="url(#gFe)" stroke="#2a3b6b" stroke-width="0.5"/>
<circle cx="868.5" cy="69.8" r="15.4" fill="url(#gFe)" stroke="#2a3b6b" stroke-width="0.5"/>
<circle cx="675.8" cy="95.4" r="15.4" fill="url(#gFe)" stroke="#2a3b6b" stroke-width="0.5"/>
<circle cx="772.4" cy="96.8" r="15.4" fill="url(#gFe)" stroke="#2a3b6b" stroke-width="0.5"/>
<circle cx="868.5" cy="98.3" r="15.4" fill="url(#gFe)" stroke="#2a3b6b" stroke-width="0.5"/>
<circle cx="817.9" cy="99.1" r="15.4" fill="url(#gFe)" stroke="#2a3b6b" stroke-width="0.5"/>
<circle cx="721.3" cy="100.2" r="15.4" fill="url(#gFe)" stroke="#2a3b6b" stroke-width="0.5"/>
<circle cx="675.8" cy="126.7" r="15.4" fill="url(#gFe)" stroke="#2a3b6b" stroke-width="0.5"/>
<circle cx="772.4" cy="127.5" r="15.4" fill="url(#gFe)" stroke="#2a3b6b" stroke-width="0.5"/>
<circle cx="868.5" cy="128.1" r="15.4" fill="url(#gFe)" stroke="#2a3b6b" stroke-width="0.5"/>
<circle cx="721.3" cy="131.5" r="15.4" fill="url(#gFe)" stroke="#2a3b6b" stroke-width="0.5"/>
<circle cx="817.9" cy="132.4" r="15.4" fill="url(#gFe)" stroke="#2a3b6b" stroke-width="0.5"/>
<circle cx="721.3" cy="160.8" r="15.4" fill="url(#gFe)" stroke="#2a3b6b" stroke-width="0.5"/>
<circle cx="817.9" cy="160.8" r="15.4" fill="url(#gFe)" stroke="#2a3b6b" stroke-width="0.5"/>
<circle cx="675.8" cy="193.5" r="15.4" fill="url(#gFe)" stroke="#2a3b6b" stroke-width="0.5"/>
<circle cx="772.4" cy="193.5" r="15.4" fill="url(#gFe)" stroke="#2a3b6b" stroke-width="0.5"/>
<circle cx="868.5" cy="193.5" r="15.4" fill="url(#gFe)" stroke="#2a3b6b" stroke-width="0.5"/>
<line x1="710.8" y1="49" x2="710.8" y2="198" stroke="#fff" stroke-width="1.5" opacity="0.88"/>
<line x1="735.7" y1="49" x2="735.7" y2="198" stroke="#fff" stroke-width="1.5" opacity="0.88"/>
<line x1="759.9" y1="49" x2="759.9" y2="198" stroke="#fff" stroke-width="1.5" opacity="0.88"/>
<line x1="783.7" y1="49" x2="783.7" y2="198" stroke="#fff" stroke-width="1.5" opacity="0.88"/>
<line x1="807.9" y1="49" x2="807.9" y2="198" stroke="#fff" stroke-width="1.5" opacity="0.88"/>
<line x1="831.7" y1="49" x2="831.7" y2="198" stroke="#fff" stroke-width="1.5" opacity="0.88"/>
<line x1="856.3" y1="49" x2="856.3" y2="198" stroke="#fff" stroke-width="1.5" opacity="0.88"/>
<line x1="880.2" y1="49" x2="880.2" y2="198" stroke="#fff" stroke-width="1.5" opacity="0.88"/>
</g>
<text x="819.6" y="69.2" font-size="14" text-anchor="middle" >Mo</text>
<text x="798.3" y="87.6" font-size="14" text-anchor="middle" >Ir</text>
<text x="772.1" y="103.3" font-size="14" text-anchor="middle" >Fe</text>
<text x="821.0" y="103.3" font-size="14" text-anchor="middle" >Fe</text>
<text x="797.1" y="121.2" font-size="14" text-anchor="middle" >Pt</text>
<text x="772.1" y="133.1" font-size="14" text-anchor="middle" >Fe</text>
<text x="821.0" y="138.2" font-size="14" text-anchor="middle" >Fe</text>
<text x="796.3" y="153.0" font-size="14" text-anchor="middle" >Pt</text>
<text x="771.3" y="169.2" font-size="14" text-anchor="middle" >Bi</text>
</g>
<g id="panelB">
<text x="3.8" y="445.0" font-size="29.5" text-anchor="start" >b</text>
<text transform="translate(25.8,548.0) rotate(-90)" font-size="17.7" text-anchor="middle">Free energy (eV)</text>
<line x1="80.2" y1="450.7" x2="87.2" y2="450.7" stroke="#222" stroke-width="1.3"/>
<text x="72.5" y="457.1" font-size="17.4" text-anchor="end" >2.0</text>
<line x1="80.2" y1="499.7" x2="87.2" y2="499.7" stroke="#222" stroke-width="1.3"/>
<text x="72.5" y="506.1" font-size="17.4" text-anchor="end" >1.0</text>
<line x1="80.2" y1="548.8" x2="87.2" y2="548.8" stroke="#222" stroke-width="1.3"/>
<text x="72.5" y="555.1" font-size="17.4" text-anchor="end" >0.0</text>
<line x1="80.2" y1="597.8" x2="87.2" y2="597.8" stroke="#222" stroke-width="1.3"/>
<text x="72.5" y="604.2" font-size="17.4" text-anchor="end" >-1.0</text>
<line x1="80.2" y1="646.8" x2="87.2" y2="646.8" stroke="#222" stroke-width="1.3"/>
<text x="72.5" y="653.2" font-size="17.4" text-anchor="end" >-2.0</text>
<path d="M126.2,548.9 L138.4,473.6 M161.6,473.6 L173.7,595.5 M196.9,595.5 L209.1,602.6 M232.3,602.6 L244.5,549.9 M267.7,549.9 L279.8,596.5 M303.1,596.5 L315.2,599.9 M338.4,599.9 L350.6,522.9 M373.8,522.9 L386.0,590.6 M409.2,590.6 L421.3,592.3 M444.5,592.3 L456.7,516.5 M479.9,516.5 L492.1,518.0 " fill="none" stroke="#1f3864" stroke-width="1.25" stroke-dasharray="4.2 2.6"/>
<path d="M126.2,548.9 L138.4,545.5 M161.6,545.5 L173.7,573.9 M196.9,573.9 L209.1,583.2 M232.3,583.2 L244.5,581.3 M267.7,581.3 L279.8,563.6 M303.1,563.6 L315.2,558.2 M338.4,558.2 L350.6,555.8 M373.8,555.8 L386.0,572.9 M409.2,572.9 L421.3,575.2 M444.5,575.2 L456.7,571.5 M479.9,571.5 L492.1,519.9 " fill="none" stroke="#ff0000" stroke-width="1.25" stroke-dasharray="4.2 2.6"/>
<line x1="103.0" y1="548.9" x2="126.2" y2="548.9" stroke="#000" stroke-width="2.6"/>
<line x1="138.4" y1="473.6" x2="161.6" y2="473.6" stroke="#000" stroke-width="2.6"/>
<line x1="173.7" y1="595.5" x2="196.9" y2="595.5" stroke="#000" stroke-width="2.6"/>
<line x1="209.1" y1="602.6" x2="232.3" y2="602.6" stroke="#000" stroke-width="2.6"/>
<line x1="244.5" y1="549.9" x2="267.7" y2="549.9" stroke="#000" stroke-width="2.6"/>
<line x1="279.8" y1="596.5" x2="303.1" y2="596.5" stroke="#000" stroke-width="2.6"/>
<line x1="315.2" y1="599.9" x2="338.4" y2="599.9" stroke="#000" stroke-width="2.6"/>
<line x1="350.6" y1="522.9" x2="373.8" y2="522.9" stroke="#000" stroke-width="2.6"/>
<line x1="386.0" y1="590.6" x2="409.2" y2="590.6" stroke="#000" stroke-width="2.6"/>
<line x1="421.3" y1="592.3" x2="444.5" y2="592.3" stroke="#000" stroke-width="2.6"/>
<line x1="456.7" y1="516.5" x2="479.9" y2="516.5" stroke="#000" stroke-width="2.6"/>
<line x1="492.1" y1="518.0" x2="515.3" y2="518.0" stroke="#000" stroke-width="2.6"/>
<line x1="103.0" y1="548.9" x2="126.2" y2="548.9" stroke="#ff0000" stroke-width="2.6"/>
<line x1="138.4" y1="545.5" x2="161.6" y2="545.5" stroke="#ff0000" stroke-width="2.6"/>
<line x1="173.7" y1="573.9" x2="196.9" y2="573.9" stroke="#ff0000" stroke-width="2.6"/>
<line x1="209.1" y1="583.2" x2="232.3" y2="583.2" stroke="#ff0000" stroke-width="2.6"/>
<line x1="244.5" y1="581.3" x2="267.7" y2="581.3" stroke="#ff0000" stroke-width="2.6"/>
<line x1="279.8" y1="563.6" x2="303.1" y2="563.6" stroke="#ff0000" stroke-width="2.6"/>
<line x1="315.2" y1="558.2" x2="338.4" y2="558.2" stroke="#ff0000" stroke-width="2.6"/>
<line x1="350.6" y1="555.8" x2="373.8" y2="555.8" stroke="#ff0000" stroke-width="2.6"/>
<line x1="386.0" y1="572.9" x2="409.2" y2="572.9" stroke="#ff0000" stroke-width="2.6"/>
<line x1="421.3" y1="575.2" x2="444.5" y2="575.2" stroke="#ff0000" stroke-width="2.6"/>
<line x1="456.7" y1="571.5" x2="479.9" y2="571.5" stroke="#ff0000" stroke-width="2.6"/>
<line x1="492.1" y1="519.9" x2="515.3" y2="519.9" stroke="#ff0000" stroke-width="2.6"/>
<line x1="404.9" y1="516.6" x2="457" y2="516.6" stroke="#000" stroke-width="1.1" stroke-dasharray="4.5 2.8"/>
<line x1="444.3" y1="592.8" x2="510" y2="592.8" stroke="#000" stroke-width="1.1" stroke-dasharray="4.5 2.8"/>
<line x1="432.8" y1="538" x2="432.8" y2="518.6" stroke="#000" stroke-width="1.2" marker-end="url(#ah)"/>
<line x1="432.8" y1="556" x2="432.8" y2="572.4" stroke="#000" stroke-width="1.2" marker-end="url(#ah)"/>
<line x1="503.9" y1="548" x2="503.9" y2="521.2" stroke="#000" stroke-width="1.2" marker-end="url(#ah)"/>
<line x1="503.9" y1="566" x2="503.9" y2="590.8" stroke="#000" stroke-width="1.2" marker-end="url(#ah)"/>
<text x="408.2" y="551.6" font-size="15" text-anchor="start" >1.13 eV</text>
<text x="477.8" y="561.4" font-size="15" text-anchor="start" >1.50 eV</text>
<line x1="380.3" y1="468.7" x2="409.8" y2="468.7" stroke="#000" stroke-width="2.6"/>
<line x1="380.3" y1="486.0" x2="409.8" y2="486.0" stroke="#ff0000" stroke-width="2.6"/>
<text x="417.6" y="474.0" font-size="15.3" text-anchor="start" >Pt</text>
<text x="417.6" y="491.6" font-size="15.3" text-anchor="start" >(PtIr)(FeMoBi)</text>
<rect x="87.2" y="450.7" width="443.8" height="196.09999999999997" fill="none" stroke="#34466f" stroke-width="1.4"/>
<line x1="114.6" y1="646.8" x2="114.6" y2="654.3" stroke="#222" stroke-width="1.3"/>
<text transform="translate(105.0,668.0) rotate(45)" font-size="17.4">CH<tspan dy="3.6" font-size="62%">2</tspan><tspan dy="-3.6">OH-CH</tspan><tspan dy="3.6" font-size="62%">2</tspan><tspan dy="-3.6">OH</tspan></text>
<line x1="150.0" y1="646.8" x2="150.0" y2="654.3" stroke="#222" stroke-width="1.3"/>
<text transform="translate(140.4,668.0) rotate(45)" font-size="17.4">CH<tspan dy="3.6" font-size="62%">2</tspan><tspan dy="-3.6">OH-CH</tspan><tspan dy="3.6" font-size="62%">2</tspan><tspan dy="-3.6">OH+*OH</tspan></text>
<line x1="185.3" y1="646.8" x2="185.3" y2="654.3" stroke="#222" stroke-width="1.3"/>
<text transform="translate(175.7,668.0) rotate(45)" font-size="17.4">CH<tspan dy="3.6" font-size="62%">2</tspan><tspan dy="-3.6">OH-CHOH+*H</tspan><tspan dy="3.6" font-size="62%">2</tspan><tspan dy="-3.6">O</tspan></text>
<line x1="220.7" y1="646.8" x2="220.7" y2="654.3" stroke="#222" stroke-width="1.3"/>
<text transform="translate(211.1,668.0) rotate(45)" font-size="17.4">CH<tspan dy="3.6" font-size="62%">2</tspan><tspan dy="-3.6">OH-CHOH</tspan></text>
<line x1="256.1" y1="646.8" x2="256.1" y2="654.3" stroke="#222" stroke-width="1.3"/>
<text transform="translate(246.5,668.0) rotate(45)" font-size="17.4">CH<tspan dy="3.6" font-size="62%">2</tspan><tspan dy="-3.6">OH-CHOH+*OH</tspan></text>
<line x1="291.4" y1="646.8" x2="291.4" y2="654.3" stroke="#222" stroke-width="1.3"/>
<text transform="translate(281.8,668.0) rotate(45)" font-size="17.4">CH<tspan dy="3.6" font-size="62%">2</tspan><tspan dy="-3.6">OH-COH+*H</tspan><tspan dy="3.6" font-size="62%">2</tspan><tspan dy="-3.6">O</tspan></text>
<line x1="326.8" y1="646.8" x2="326.8" y2="654.3" stroke="#222" stroke-width="1.3"/>
<text transform="translate(317.2,668.0) rotate(45)" font-size="17.4">CH<tspan dy="3.6" font-size="62%">2</tspan><tspan dy="-3.6">OH-COH</tspan></text>
<line x1="362.2" y1="646.8" x2="362.2" y2="654.3" stroke="#222" stroke-width="1.3"/>
<text transform="translate(352.6,668.0) rotate(45)" font-size="17.4">CH<tspan dy="3.6" font-size="62%">2</tspan><tspan dy="-3.6">OH-COH+*OH</tspan></text>
<line x1="397.6" y1="646.8" x2="397.6" y2="654.3" stroke="#222" stroke-width="1.3"/>
<text transform="translate(388.0,668.0) rotate(45)" font-size="17.4">CH<tspan dy="3.6" font-size="62%">2</tspan><tspan dy="-3.6">OH-CO+*H</tspan><tspan dy="3.6" font-size="62%">2</tspan><tspan dy="-3.6">O</tspan></text>
<line x1="432.9" y1="646.8" x2="432.9" y2="654.3" stroke="#222" stroke-width="1.3"/>
<text transform="translate(423.3,668.0) rotate(45)" font-size="17.4">CH<tspan dy="3.6" font-size="62%">2</tspan><tspan dy="-3.6">OH-CO</tspan></text>
<line x1="468.3" y1="646.8" x2="468.3" y2="654.3" stroke="#222" stroke-width="1.3"/>
<text transform="translate(458.7,668.0) rotate(45)" font-size="17.4">CH<tspan dy="3.6" font-size="62%">2</tspan><tspan dy="-3.6">OH-CO+*OH</tspan></text>
<line x1="503.7" y1="646.8" x2="503.7" y2="654.3" stroke="#222" stroke-width="1.3"/>
<text transform="translate(494.1,668.0) rotate(45)" font-size="17.4">CH<tspan dy="3.6" font-size="62%">2</tspan><tspan dy="-3.6">OH-COOH</tspan></text>
</g>
<g id="panelC">
<text x="574.8" y="445.9" font-size="30.5" text-anchor="start" >c</text>
<text transform="translate(607.6,483.6) rotate(-90)" font-size="17.6" text-anchor="middle">Energy</text>
<line x1="620.1" y1="707" x2="620.1" y2="448" stroke="#000" stroke-width="1.3"/>
<path d="M620.1,443.8 L623.4,450.6 L616.8000000000001,450.6 Z" fill="#000"/>
<line x1="730.7" y1="707" x2="730.7" y2="448" stroke="#000" stroke-width="1.3"/>
<path d="M730.7,443.8 L734.0,450.6 L727.4000000000001,450.6 Z" fill="#000"/>
<line x1="841.0" y1="707" x2="841.0" y2="448" stroke="#000" stroke-width="1.3"/>
<path d="M841.0,443.8 L844.3,450.6 L837.7,450.6 Z" fill="#000"/>
<line x1="683.4" y1="574.5" x2="730.7" y2="498.0" stroke="#1f3864" stroke-width="1.35" stroke-dasharray="4.6 2.8"/>
<line x1="683.4" y1="574.5" x2="730.7" y2="639.0" stroke="#1f3864" stroke-width="1.35" stroke-dasharray="4.6 2.8"/>
<line x1="683.4" y1="607.1" x2="730.7" y2="526.4" stroke="#ff0000" stroke-width="1.35" stroke-dasharray="4.6 2.8"/>
<line x1="683.4" y1="607.1" x2="730.7" y2="656.8" stroke="#ff0000" stroke-width="1.35" stroke-dasharray="4.6 2.8"/>
<line x1="792.8" y1="498.1" x2="841" y2="559.6" stroke="#1f3864" stroke-width="1.35" stroke-dasharray="4.6 2.8"/>
<line x1="792.8" y1="527.2" x2="841" y2="559.6" stroke="#ff0000" stroke-width="1.35" stroke-dasharray="4.6 2.8"/>
<line x1="792.8" y1="642.8" x2="841" y2="559.6" stroke="#1f3864" stroke-width="1.35" stroke-dasharray="4.6 2.8"/>
<line x1="792.8" y1="656.8" x2="841" y2="559.6" stroke="#ff0000" stroke-width="1.35" stroke-dasharray="4.6 2.8"/>
<path d="M620.1,558.6 A63.3,15.9 0 0 1 620.1,590.4 Z" fill="#fff" stroke="#000" stroke-width="1.1"/>
<path d="M620.1,591.1999999999999 A63.3,16.1 0 0 1 620.1,623.4 Z" fill="#ff0000" stroke="#000" stroke-width="1.1"/>
<path d="M730.7,481.8 A62.1,16.3 0 0 1 730.7,514.4 Z" fill="#fff" stroke="#000" stroke-width="1.1"/>
<path d="M730.7,511.4 A62.1,15.9 0 0 1 730.7,543.1999999999999 Z" fill="#ff0000" stroke="#000" stroke-width="1.1"/>
<path d="M730.7,626.5 A62.1,16.3 0 0 1 730.7,659.0999999999999 Z" fill="#fff" stroke="#000" stroke-width="1.1"/>
<path d="M730.7,641.6 A62.1,16.1 0 0 1 730.7,673.8000000000001 Z" fill="#ff0000" stroke="#000" stroke-width="1.1"/>
<path d="M841.0,543.8 A61.6,16.1 0 0 1 841.0,576.0 Z" fill="#ff0000" stroke="#000" stroke-width="1.1"/>
<text x="629" y="546.6" font-size="17.2" text-anchor="start" >Pt-<tspan font-style="italic">d</tspan></text>
<text x="629" y="651.4" font-size="17.2" text-anchor="start" >HEI-Pt-<tspan font-style="italic">d</tspan></text>
<text x="850.3" y="601.0" font-size="17.2" text-anchor="start" >CH<tspan dy="3.6" font-size="66%">2</tspan><tspan dy="-3.6">OH-</tspan></text>
<text x="850.3" y="621.6" font-size="17.2" text-anchor="start" >COOH</text>
</g>
<defs>
<filter id="cmap" filterUnits="userSpaceOnUse" x="30" y="790" width="900" height="230" color-interpolation-filters="sRGB"><feComponentTransfer><feFuncR type="table" tableValues="0.000 0.000 0.000 0.000 0.000 0.000 0.000 0.000 0.000 0.000 0.000 0.000 0.000 0.000 0.000 0.000 0.000 0.000 0.000 0.000 0.000 0.000 0.000 0.000 0.061 0.127 0.193 0.259 0.316 0.370 0.424 0.478 0.532 0.594 0.659 0.724 0.790 0.855 0.920 0.985 1.000 1.000 1.000 1.000 1.000 1.000 1.000 1.000 1.000 1.000 1.000 1.000 1.000 1.000 1.000 1.000 1.000 1.000 1.000 1.000 1.000"/><feFuncG type="table" tableValues="1.000 1.000 1.000 1.000 1.000 1.000 1.000 0.996 0.947 0.897 0.847 0.798 0.748 0.690 0.624 0.559 0.493 0.428 0.359 0.289 0.218 0.147 0.076 0.005 0.000 0.000 0.000 0.000 0.000 0.000 0.000 0.000 0.000 0.000 0.000 0.000 0.000 0.000 0.000 0.000 0.000 0.000 0.000 0.000 0.000 0.000 0.000 0.000 0.000 0.212 0.425 0.622 0.766 0.910 0.922 0.922 0.922 0.922 0.922 0.922 0.922"/><feFuncB type="table" tableValues="1.000 1.000 1.000 1.000 1.000 1.000 1.000 1.000 1.000 1.000 1.000 1.000 1.000 1.000 1.000 1.000 1.000 1.000 1.000 1.000 1.000 1.000 1.000 1.000 1.000 1.000 1.000 1.000 1.000 1.000 1.000 1.000 1.000 1.000 1.000 1.000 1.000 1.000 1.000 1.000 0.938 0.857 0.775 0.694 0.613 0.478 0.319 0.159 0.000 0.000 0.000 0.000 0.000 0.000 0.000 0.000 0.000 0.000 0.000 0.000 0.000"/></feComponentTransfer></filter>
<filter id="bl1" filterUnits="userSpaceOnUse" x="30" y="790" width="900" height="230" color-interpolation-filters="sRGB"><feGaussianBlur stdDeviation="1.5"/></filter>
<filter id="bl2" filterUnits="userSpaceOnUse" x="30" y="790" width="900" height="230" color-interpolation-filters="sRGB"><feGaussianBlur stdDeviation="2.4"/></filter>
<filter id="bl4" filterUnits="userSpaceOnUse" x="30" y="790" width="900" height="230" color-interpolation-filters="sRGB"><feGaussianBlur stdDeviation="4.2"/></filter>
<filter id="bl8" filterUnits="userSpaceOnUse" x="30" y="790" width="900" height="230" color-interpolation-filters="sRGB"><feGaussianBlur stdDeviation="9"/></filter>
<linearGradient id="cbar" x1="0" y1="0" x2="0" y2="1"><stop offset="0.00" stop-color="rgb(255,235,0)"/><stop offset="0.05" stop-color="rgb(255,150,0)"/><stop offset="0.11" stop-color="rgb(255,0,0)"/><stop offset="0.19" stop-color="rgb(255,0,150)"/><stop offset="0.30" stop-color="rgb(255,0,255)"/><stop offset="0.45" stop-color="rgb(140,0,255)"/><stop offset="0.56" stop-color="rgb(70,0,255)"/><stop offset="0.65" stop-color="rgb(0,0,255)"/><stop offset="0.77" stop-color="rgb(0,100,255)"/><stop offset="0.88" stop-color="rgb(0,185,255)"/><stop offset="1.00" stop-color="rgb(0,255,255)"/></linearGradient>
<marker id="ahs" viewBox="0 0 10 10" refX="9" refY="5" markerUnits="userSpaceOnUse" markerWidth="8" markerHeight="6.5" orient="auto-start-reverse"><path d="M0,0.5 L10,5 L0,9.5 Z" fill="#000"/></marker>
</defs>
<filter id="bl1_1" filterUnits="userSpaceOnUse" x="30" y="790" width="900" height="230" color-interpolation-filters="sRGB"><feGaussianBlur stdDeviation="1.50"/></filter>
<filter id="bl2_1" filterUnits="userSpaceOnUse" x="30" y="790" width="900" height="230" color-interpolation-filters="sRGB"><feGaussianBlur stdDeviation="2.40"/></filter>
<clipPath id="hm1"><rect x="62.4" y="816.6" width="171.6" height="171.0"/></clipPath>
<g clip-path="url(#hm1)">
<g filter="url(#cmap)">
<rect x="42.4" y="796.6" width="211.6" height="211.0" fill="rgb(124,124,124)"/>
<g filter="url(#bl8)">
<ellipse cx="80.1" cy="874.3" rx="26.1" ry="18.1" fill="#fff" opacity="0.3"/>
<ellipse cx="146.5" cy="934.7" rx="52.3" ry="18.1" fill="#fff" opacity="0.14"/>
<ellipse cx="196.8" cy="970.9" rx="30.2" ry="14.1" fill="#fff" opacity="0.12"/>
<ellipse cx="216.9" cy="822.1" rx="24.1" ry="12.1" fill="#000" opacity="0.18"/>
</g>
<g filter="url(#bl4)">
<ellipse cx="120.3" cy="848.2" rx="33.2" ry="26.1" fill="#000" opacity="0.3"/>
<ellipse cx="194.7" cy="856.2" rx="42.2" ry="30.2" fill="#000" opacity="0.25"/>
<ellipse cx="83.1" cy="871.3" rx="19.1" ry="11.1" fill="#fff" opacity="0.3"/>
<ellipse cx="94.8" cy="871.7" rx="10.1" ry="10.9" fill="#fff" opacity="0.45"/>
<ellipse cx="86.6" cy="960.0" rx="15.7" ry="15.7" fill="#fff" opacity="0.18"/>
</g>
<g filter="url(#bl2_1)">
<ellipse cx="68.1" cy="898.5" rx="3.6" ry="3.6" fill="#fff" opacity="0.5"/>
<ellipse cx="123.4" cy="844.6" rx="23.8" ry="16.6" fill="#000" opacity="1"/>
<ellipse cx="110.7" cy="864.7" rx="11.0" ry="15.8" fill="#000" opacity="1"/>
<ellipse cx="193.9" cy="858.7" rx="33.1" ry="23.8" fill="#000" opacity="1"/>
<ellipse cx="164.6" cy="876.8" rx="16.2" ry="16.2" fill="#000" opacity="1"/>
<ellipse cx="216.5" cy="870.3" rx="11.8" ry="13.8" fill="#000" opacity="1"/>
<ellipse cx="184.7" cy="890.4" rx="10.2" ry="8.1" fill="#000" opacity="1"/>
<ellipse cx="149.5" cy="856.2" rx="15.8" ry="7.7" fill="#fff" opacity="1" transform="rotate(26 149.5 856.2)"/>
<ellipse cx="133.4" cy="880.8" rx="17.4" ry="16.6" fill="#fff" opacity="1"/>
<ellipse cx="190.3" cy="865.9" rx="11.8" ry="6.9" fill="#fff" opacity="1" transform="rotate(-18 190.3 865.9)"/>
<ellipse cx="205.8" cy="891.4" rx="13.0" ry="7.7" fill="#fff" opacity="1" transform="rotate(-12 205.8 891.4)"/>
<ellipse cx="134.0" cy="907.3" rx="15.4" ry="8.1" fill="#000" opacity="1"/>
<ellipse cx="103.1" cy="916.0" rx="4.9" ry="7.5" fill="#000" opacity="1" transform="rotate(-35 103.1 916.0)"/>
<ellipse cx="118.9" cy="936.7" rx="6.1" ry="6.1" fill="#000" opacity="1"/>
<ellipse cx="112.3" cy="927.6" rx="6.9" ry="5.3" fill="#000" opacity="1"/>
<ellipse cx="107.5" cy="935.5" rx="6.3" ry="9.4" fill="#fff" opacity="1" transform="rotate(8 107.5 935.5)"/>
<ellipse cx="113.7" cy="913.6" rx="6.9" ry="6.5" fill="#fff" opacity="1"/>
<ellipse cx="122.4" cy="918.6" rx="8.9" ry="6.5" fill="#fff" opacity="1" transform="rotate(30 122.4 918.6)"/>
<ellipse cx="133.4" cy="922.6" rx="16.0" ry="6.3" fill="#fff" opacity="1" transform="rotate(5 133.4 922.6)"/>
<ellipse cx="146.9" cy="918.6" rx="6.9" ry="6.5" fill="#fff" opacity="1"/>
<ellipse cx="93.2" cy="952.4" rx="6.3" ry="6.5" fill="#fff" opacity="1"/>
<ellipse cx="79.5" cy="967.7" rx="7.3" ry="6.3" fill="#fff" opacity="1"/>
<ellipse cx="66.9" cy="985.7" rx="4.0" ry="3.6" fill="#fff" opacity="0.55"/>
<ellipse cx="152.1" cy="956.2" rx="4.6" ry="4.6" fill="#fff" opacity="0.7"/>
<ellipse cx="159.4" cy="969.3" rx="4.6" ry="4.6" fill="#fff" opacity="0.7"/>
<ellipse cx="126.4" cy="986.8" rx="3.2" ry="2.4" fill="#fff" opacity="0.55"/>
<ellipse cx="171.6" cy="931.9" rx="7.3" ry="5.9" fill="#000" opacity="1"/>
<ellipse cx="179.1" cy="919.6" rx="6.8" ry="2.6" fill="#fff" opacity="0.62"/>
<ellipse cx="186.7" cy="933.1" rx="3.4" ry="3.0" fill="#fff" opacity="0.65"/>
<ellipse cx="151.5" cy="932.7" rx="2.8" ry="2.8" fill="#000" opacity="0.4"/>
<ellipse cx="214.9" cy="927.6" rx="14.5" ry="11.3" fill="#fff" opacity="0.5"/>
<ellipse cx="214.9" cy="927.0" rx="10.2" ry="6.5" fill="#000" opacity="1"/>
</g>
<g filter="url(#bl1_1)">
<ellipse cx="66.1" cy="888.4" rx="7.1" ry="3.5" fill="#000" opacity="1" transform="rotate(25 66.1 888.4)"/>
<ellipse cx="120.7" cy="849.4" rx="3.2" ry="1.6" fill="#fff" opacity="0.22" transform="rotate(10 120.7 849.4)"/>
<ellipse cx="133.4" cy="884.4" rx="6.2" ry="6.2" fill="#000" opacity="1"/>
<ellipse cx="121.6" cy="889.4" rx="4.8" ry="2.0" fill="#000" opacity="1" transform="rotate(15 121.6 889.4)"/>
<ellipse cx="146.5" cy="890.4" rx="4.8" ry="2.0" fill="#000" opacity="1" transform="rotate(-15 146.5 890.4)"/>
<ellipse cx="203.8" cy="904.9" rx="8.4" ry="3.4" fill="#fff" opacity="1" transform="rotate(10 203.8 904.9)"/>
<ellipse cx="200.8" cy="898.5" rx="8.0" ry="1.6" fill="#000" opacity="0.9"/>
<ellipse cx="234.0" cy="900.5" rx="4.3" ry="5.9" fill="#fff" opacity="1"/>
<ellipse cx="164.6" cy="891.4" rx="4.3" ry="4.3" fill="#fff" opacity="0.9"/>
<ellipse cx="95.8" cy="935.5" rx="4.3" ry="8.7" fill="#000" opacity="1" transform="rotate(12 95.8 935.5)"/>
<ellipse cx="118.9" cy="925.2" rx="6.1" ry="3.9" fill="#000" opacity="1" transform="rotate(-10 118.9 925.2)"/>
<ellipse cx="83.3" cy="949.8" rx="2.8" ry="4.8" fill="#000" opacity="1" transform="rotate(-15 83.3 949.8)"/>
<ellipse cx="75.1" cy="959.4" rx="4.6" ry="2.6" fill="#000" opacity="1" transform="rotate(15 75.1 959.4)"/>
<ellipse cx="98.0" cy="960.6" rx="4.8" ry="2.8" fill="#000" opacity="1" transform="rotate(-5 98.0 960.6)"/>
<ellipse cx="88.8" cy="970.5" rx="2.8" ry="4.8" fill="#000" opacity="1" transform="rotate(-10 88.8 970.5)"/>
<ellipse cx="78.3" cy="953.0" rx="1.8" ry="1.8" fill="#fff" opacity="0.6"/>
<ellipse cx="94.2" cy="967.0" rx="1.8" ry="1.8" fill="#fff" opacity="0.6"/>
<ellipse cx="155.7" cy="961.6" rx="8.4" ry="2.2" fill="#000" opacity="1" transform="rotate(-35 155.7 961.6)"/>
<ellipse cx="152.1" cy="956.2" rx="2.6" ry="2.6" fill="#fff" opacity="1"/>
<ellipse cx="159.4" cy="969.3" rx="2.8" ry="2.8" fill="#fff" opacity="1"/>
<ellipse cx="137.4" cy="984.5" rx="4.3" ry="2.7" fill="#000" opacity="0.9" transform="rotate(-20 137.4 984.5)"/>
<ellipse cx="182.7" cy="926.2" rx="3.4" ry="2.2" fill="#000" opacity="1" transform="rotate(-20 182.7 926.2)"/>
<ellipse cx="223.3" cy="937.1" rx="6.2" ry="2.4" fill="#000" opacity="1" transform="rotate(-25 223.3 937.1)"/>
<ellipse cx="226.9" cy="890.4" rx="4.3" ry="3.1" fill="#000" opacity="0.8"/>
</g>
</g>
<line x1="91.2" y1="900.9" x2="133.4" y2="900.9" stroke="#7d7d7d" stroke-width="1.4"/>
<line x1="133.4" y1="900.9" x2="175.0" y2="900.9" stroke="#7d7d7d" stroke-width="1.4"/>
<line x1="175.0" y1="900.9" x2="217.9" y2="900.9" stroke="#7d7d7d" stroke-width="1.4"/>
<line x1="133.4" y1="900.9" x2="133.4" y2="863.9" stroke="#7d7d7d" stroke-width="1.4"/>
<line x1="133.4" y1="863.9" x2="154.5" y2="842.2" stroke="#7d7d7d" stroke-width="1.4"/>
<line x1="175.0" y1="900.9" x2="194.7" y2="877.4" stroke="#7d7d7d" stroke-width="1.4"/>
<line x1="194.7" y1="877.4" x2="216.9" y2="855.8" stroke="#7d7d7d" stroke-width="1.4"/>
<line x1="194.7" y1="877.4" x2="217.9" y2="900.9" stroke="#7d7d7d" stroke-width="1.4"/>
<circle cx="91.2" cy="900.9" r="10.9" fill="#e2e2e2" stroke="#d2d2d2" stroke-width="0.6"/>
<text x="91.2" y="906.3" font-size="15" text-anchor="middle">Pt</text>
<circle cx="133.4" cy="900.9" r="10.9" fill="#e2e2e2" stroke="#d2d2d2" stroke-width="0.6"/>
<text x="133.4" y="906.3" font-size="15" text-anchor="middle">Pt</text>
<circle cx="175.0" cy="900.9" r="10.9" fill="#e2e2e2" stroke="#d2d2d2" stroke-width="0.6"/>
<text x="175.0" y="906.3" font-size="15" text-anchor="middle">Pt</text>
<circle cx="217.9" cy="900.9" r="10.9" fill="#e2e2e2" stroke="#d2d2d2" stroke-width="0.6"/>
<text x="217.9" y="906.3" font-size="15" text-anchor="middle">Pt</text>
<circle cx="133.4" cy="863.9" r="10.9" fill="#e2e2e2" stroke="#d2d2d2" stroke-width="0.6"/>
<text x="133.4" y="869.3" font-size="15" text-anchor="middle">C</text>
<circle cx="154.5" cy="842.2" r="10.9" fill="#e2e2e2" stroke="#d2d2d2" stroke-width="0.6"/>
<text x="154.5" y="847.6" font-size="15" text-anchor="middle">H</text>
<circle cx="194.7" cy="877.4" r="10.9" fill="#e2e2e2" stroke="#d2d2d2" stroke-width="0.6"/>
<text x="194.7" y="882.8" font-size="15" text-anchor="middle">O</text>
<circle cx="216.9" cy="855.8" r="10.9" fill="#e2e2e2" stroke="#d2d2d2" stroke-width="0.6"/>
<text x="216.9" y="861.2" font-size="15" text-anchor="middle">H</text>
<line x1="205.8" y1="938.7" x2="203.0" y2="896.1" stroke="#000" stroke-width="1.2" marker-end="url(#ahs)"/>
<text x="175.0" y="954.8" font-size="15" style="fill:#fff;stroke:#fff">−0.05 e</text>
</g>
<filter id="bl1_2" filterUnits="userSpaceOnUse" x="30" y="790" width="900" height="230" color-interpolation-filters="sRGB"><feGaussianBlur stdDeviation="1.88"/></filter>
<filter id="bl2_2" filterUnits="userSpaceOnUse" x="30" y="790" width="900" height="230" color-interpolation-filters="sRGB"><feGaussianBlur stdDeviation="3.00"/></filter>
<clipPath id="hm2"><rect x="268.0" y="816.6" width="171.6" height="171.0"/></clipPath>
<g clip-path="url(#hm2)">
<g filter="url(#cmap)">
<rect x="248.0" y="796.6" width="211.6" height="211.0" fill="rgb(120,120,120)"/>
<g filter="url(#bl8)">
<ellipse cx="282.1" cy="840.2" rx="24.1" ry="18.1" fill="#fff" opacity="0.15"/>
<ellipse cx="382.7" cy="850.2" rx="24.1" ry="12.1" fill="#fff" opacity="0.1"/>
<ellipse cx="346.5" cy="860.3" rx="22.1" ry="10.1" fill="#000" opacity="0.07"/>
<ellipse cx="302.2" cy="906.5" rx="38.2" ry="34.2" fill="#fff" opacity="0.28"/>
<ellipse cx="420.9" cy="876.4" rx="18.1" ry="32.2" fill="#fff" opacity="0.28"/>
</g>
<g filter="url(#bl4)">
<ellipse cx="400.7" cy="888.4" rx="10.1" ry="13.1" fill="#000" opacity="0.35"/>
</g>
<g filter="url(#bl2_2)">
<ellipse cx="287.3" cy="892.4" rx="9.2" ry="11.6" fill="#000" opacity="1"/>
<ellipse cx="280.7" cy="872.3" rx="12.4" ry="10.4" fill="#000" opacity="1" transform="rotate(15 280.7 872.3)"/>
<ellipse cx="292.2" cy="872.3" rx="7.6" ry="9.6" fill="#000" opacity="1"/>
<ellipse cx="310.3" cy="902.9" rx="3.6" ry="11.1" fill="#000" opacity="0.5"/>
<ellipse cx="285.3" cy="907.7" rx="6.0" ry="7.6" fill="#fff" opacity="1"/>
<ellipse cx="290.6" cy="919.6" rx="11.2" ry="6.0" fill="#000" opacity="1" transform="rotate(25 290.6 919.6)"/>
<ellipse cx="310.3" cy="915.6" rx="5.6" ry="5.6" fill="#000" opacity="0.9"/>
<ellipse cx="298.2" cy="926.6" rx="8.4" ry="6.6" fill="#fff" opacity="1" transform="rotate(-40 298.2 926.6)"/>
<ellipse cx="310.3" cy="930.7" rx="3.6" ry="6.0" fill="#000" opacity="0.55"/>
<ellipse cx="311.3" cy="890.4" rx="6.4" ry="6.8" fill="#000" opacity="0.78"/>
<ellipse cx="325.9" cy="903.9" rx="6.4" ry="5.6" fill="#fff" opacity="0.72"/>
<ellipse cx="326.3" cy="927.0" rx="3.4" ry="3.0" fill="#fff" opacity="0.5"/>
<ellipse cx="419.7" cy="853.2" rx="7.4" ry="10.4" fill="#000" opacity="1"/>
<ellipse cx="420.9" cy="886.8" rx="8.0" ry="6.0" fill="#fff" opacity="1"/>
<ellipse cx="414.2" cy="901.5" rx="3.6" ry="8.0" fill="#fff" opacity="0.55"/>
<ellipse cx="436.9" cy="910.5" rx="3.2" ry="8.0" fill="#000" opacity="0.6"/>
</g>
<g filter="url(#bl1_2)">
<ellipse cx="274.1" cy="881.4" rx="6.9" ry="4.3" fill="#fff" opacity="1" transform="rotate(10 274.1 881.4)"/>
<ellipse cx="277.1" cy="894.5" rx="2.4" ry="2.8" fill="#fff" opacity="0.7"/>
<ellipse cx="272.1" cy="888.8" rx="3.0" ry="2.0" fill="#000" opacity="0.7"/>
<ellipse cx="327.4" cy="886.4" rx="7.7" ry="4.5" fill="#000" opacity="1"/>
<ellipse cx="322.3" cy="874.3" rx="6.5" ry="3.3" fill="#000" opacity="1"/>
<ellipse cx="336.8" cy="874.7" rx="2.4" ry="1.6" fill="#000" opacity="0.6"/>
<ellipse cx="329.4" cy="868.3" rx="7.1" ry="3.9" fill="#fff" opacity="0.8"/>
<ellipse cx="323.3" cy="880.8" rx="6.5" ry="3.7" fill="#fff" opacity="0.9" transform="rotate(-20 323.3 880.8)"/>
<ellipse cx="336.8" cy="881.8" rx="2.6" ry="2.2" fill="#fff" opacity="0.55"/>
<ellipse cx="325.9" cy="903.9" rx="3.9" ry="3.5" fill="#fff" opacity="0.85"/>
<ellipse cx="325.9" cy="916.6" rx="6.9" ry="4.5" fill="#000" opacity="1"/>
<ellipse cx="413.8" cy="858.3" rx="4.5" ry="5.3" fill="#fff" opacity="1"/>
<ellipse cx="413.8" cy="871.3" rx="3.7" ry="4.9" fill="#fff" opacity="1"/>
<ellipse cx="434.1" cy="857.3" rx="4.7" ry="4.7" fill="#fff" opacity="1"/>
<ellipse cx="411.8" cy="864.7" rx="2.8" ry="2.0" fill="#000" opacity="1"/>
<ellipse cx="422.9" cy="879.4" rx="9.3" ry="3.9" fill="#000" opacity="1"/>
<ellipse cx="431.3" cy="886.8" rx="4.1" ry="5.5" fill="#fff" opacity="1"/>
</g>
</g>
<line x1="279.1" y1="857.3" x2="298.8" y2="877.0" stroke="#7d7d7d" stroke-width="1.4"/>
<line x1="298.8" y1="877.0" x2="298.8" y2="903.5" stroke="#7d7d7d" stroke-width="1.4"/>
<line x1="298.8" y1="903.5" x2="342.4" y2="903.5" stroke="#7d7d7d" stroke-width="1.4"/>
<line x1="342.4" y1="903.5" x2="383.7" y2="903.5" stroke="#7d7d7d" stroke-width="1.4"/>
<line x1="383.7" y1="903.5" x2="427.9" y2="903.5" stroke="#7d7d7d" stroke-width="1.4"/>
<line x1="427.9" y1="903.5" x2="427.3" y2="869.3" stroke="#7d7d7d" stroke-width="1.4"/>
<line x1="427.3" y1="869.3" x2="427.3" y2="837.1" stroke="#7d7d7d" stroke-width="1.4"/>
<circle cx="279.1" cy="857.3" r="10.9" fill="#e2e2e2" stroke="#d2d2d2" stroke-width="0.6"/>
<text x="279.1" y="862.7" font-size="15" text-anchor="middle">H</text>
<circle cx="298.8" cy="877.0" r="10.9" fill="#e2e2e2" stroke="#d2d2d2" stroke-width="0.6"/>
<text x="298.8" y="882.4" font-size="15" text-anchor="middle">C</text>
<circle cx="298.8" cy="903.5" r="10.9" fill="#e2e2e2" stroke="#d2d2d2" stroke-width="0.6"/>
<text x="298.8" y="908.9" font-size="15" text-anchor="middle">Pt</text>
<circle cx="342.4" cy="903.5" r="10.9" fill="#e2e2e2" stroke="#d2d2d2" stroke-width="0.6"/>
<text x="342.4" y="908.9" font-size="15" text-anchor="middle">Fe</text>
<circle cx="383.7" cy="903.5" r="10.9" fill="#e2e2e2" stroke="#d2d2d2" stroke-width="0.6"/>
<text x="383.7" y="908.9" font-size="15" text-anchor="middle">Pt</text>
<circle cx="427.9" cy="903.5" r="10.9" fill="#e2e2e2" stroke="#d2d2d2" stroke-width="0.6"/>
<text x="427.9" y="908.9" font-size="15" text-anchor="middle">Fe</text>
<circle cx="427.3" cy="869.3" r="10.9" fill="#e2e2e2" stroke="#d2d2d2" stroke-width="0.6"/>
<text x="427.3" y="874.7" font-size="15" text-anchor="middle">O</text>
<circle cx="427.3" cy="837.1" r="10.9" fill="#e2e2e2" stroke="#d2d2d2" stroke-width="0.6"/>
<text x="427.3" y="842.5" font-size="15" text-anchor="middle">H</text>
<line x1="405.2" y1="928.6" x2="419.5" y2="888.0" stroke="#000" stroke-width="1.2" marker-end="url(#ahs)"/>
<text x="368.2" y="946.7" font-size="15" style="fill:#fff;stroke:#fff">−0.17 e</text>
</g>
<filter id="bl1_3" filterUnits="userSpaceOnUse" x="30" y="790" width="900" height="230" color-interpolation-filters="sRGB"><feGaussianBlur stdDeviation="1.72"/></filter>
<filter id="bl2_3" filterUnits="userSpaceOnUse" x="30" y="790" width="900" height="230" color-interpolation-filters="sRGB"><feGaussianBlur stdDeviation="2.76"/></filter>
<clipPath id="hm3"><rect x="519.0" y="816.6" width="171.2" height="171.0"/></clipPath>
<g clip-path="url(#hm3)">
<g filter="url(#cmap)">
<rect x="499.0" y="796.6" width="211.2" height="211.0" fill="rgb(120,120,120)"/>
<g filter="url(#bl8)">
<ellipse cx="538.1" cy="930.7" rx="24.1" ry="24.1" fill="#fff" opacity="0.2"/>
<ellipse cx="616.6" cy="832.1" rx="24.1" ry="12.1" fill="#fff" opacity="0.14"/>
<ellipse cx="660.8" cy="934.7" rx="26.1" ry="30.2" fill="#fff" opacity="0.14"/>
<ellipse cx="602.5" cy="974.9" rx="40.2" ry="10.1" fill="#fff" opacity="0.14"/>
<ellipse cx="604.5" cy="914.6" rx="34.2" ry="42.2" fill="#fff" opacity="0.26"/>
</g>
<g filter="url(#bl4)">
<ellipse cx="548.2" cy="872.3" rx="30.2" ry="10.1" fill="#000" opacity="0.32" transform="rotate(10 548.2 872.3)"/>
<ellipse cx="668.8" cy="894.5" rx="9.0" ry="18.1" fill="#000" opacity="0.26" transform="rotate(-20 668.8 894.5)"/>
<ellipse cx="576.3" cy="826.1" rx="5.6" ry="5.6" fill="#000" opacity="0.35"/>
<ellipse cx="529.1" cy="975.9" rx="5.6" ry="5.2" fill="#000" opacity="0.5"/>
<ellipse cx="630.6" cy="981.3" rx="6.4" ry="4.0" fill="#000" opacity="0.6"/>
<ellipse cx="632.7" cy="965.8" rx="9.0" ry="4.4" fill="#fff" opacity="0.7" transform="rotate(-10 632.7 965.8)"/>
</g>
<g filter="url(#bl2_3)">
<ellipse cx="652.8" cy="970.9" rx="2.8" ry="3.6" fill="#000" opacity="0.4"/>
<ellipse cx="604.5" cy="917.0" rx="13.9" ry="13.1" fill="#000" opacity="1"/>
<ellipse cx="605.5" cy="949.2" rx="21.1" ry="15.1" fill="#000" opacity="1"/>
<ellipse cx="588.0" cy="917.6" rx="6.0" ry="8.4" fill="#fff" opacity="0.5"/>
<ellipse cx="621.0" cy="914.6" rx="2.8" ry="6.0" fill="#fff" opacity="0.7"/>
<ellipse cx="591.4" cy="933.9" rx="8.0" ry="6.0" fill="#fff" opacity="0.5" transform="rotate(-35 591.4 933.9)"/>
<ellipse cx="591.4" cy="933.9" rx="7.1" ry="5.3" fill="#fff" opacity="1" transform="rotate(-35 591.4 933.9)"/>
<ellipse cx="618.6" cy="932.7" rx="8.4" ry="6.0" fill="#fff" opacity="0.5" transform="rotate(35 618.6 932.7)"/>
<ellipse cx="618.6" cy="932.7" rx="7.5" ry="5.3" fill="#fff" opacity="1" transform="rotate(35 618.6 932.7)"/>
<ellipse cx="598.5" cy="873.5" rx="28.2" ry="6.0" fill="#fff" opacity="0.66" transform="rotate(5 598.5 873.5)"/>
<ellipse cx="602.5" cy="887.4" rx="25.2" ry="10.3" fill="#000" opacity="1"/>
<ellipse cx="602.5" cy="895.5" rx="19.1" ry="6.0" fill="#fff" opacity="0.5"/>
<ellipse cx="576.7" cy="867.5" rx="7.5" ry="5.5" fill="#fff" opacity="1"/>
<ellipse cx="579.6" cy="853.2" rx="7.7" ry="5.3" fill="#000" opacity="1"/>
<ellipse cx="623.6" cy="847.8" rx="9.2" ry="9.2" fill="#fff" opacity="0.62"/>
<ellipse cx="623.8" cy="850.2" rx="6.7" ry="6.1" fill="#fff" opacity="1"/>
<ellipse cx="632.7" cy="872.7" rx="7.5" ry="5.1" fill="#fff" opacity="1"/>
<ellipse cx="564.7" cy="850.2" rx="3.8" ry="6.4" fill="#fff" opacity="0.66"/>
<ellipse cx="560.3" cy="863.5" rx="6.7" ry="5.3" fill="#000" opacity="0.9"/>
</g>
<g filter="url(#bl1_3)">
<ellipse cx="604.5" cy="931.7" rx="4.6" ry="6.8" fill="#000" opacity="1"/>
<ellipse cx="588.0" cy="917.6" rx="4.6" ry="6.8" fill="#fff" opacity="1"/>
<ellipse cx="592.4" cy="899.9" rx="4.8" ry="4.0" fill="#fff" opacity="1"/>
<ellipse cx="616.6" cy="899.9" rx="4.8" ry="4.0" fill="#fff" opacity="1"/>
<ellipse cx="620.6" cy="866.7" rx="5.4" ry="3.8" fill="#000" opacity="1"/>
</g>
</g>
<line x1="582.4" y1="841.2" x2="604.5" y2="860.3" stroke="#7d7d7d" stroke-width="1.4"/>
<line x1="604.5" y1="860.3" x2="633.7" y2="859.3" stroke="#7d7d7d" stroke-width="1.4"/>
<line x1="604.5" y1="860.3" x2="604.5" y2="893.9" stroke="#7d7d7d" stroke-width="1.4"/>
<line x1="560.3" y1="893.9" x2="604.5" y2="893.9" stroke="#7d7d7d" stroke-width="1.4"/>
<line x1="604.5" y1="893.9" x2="648.7" y2="893.9" stroke="#7d7d7d" stroke-width="1.4"/>
<circle cx="582.4" cy="841.2" r="10.9" fill="#e2e2e2" stroke="#d2d2d2" stroke-width="0.6"/>
<text x="582.4" y="846.6" font-size="15" text-anchor="middle">C</text>
<circle cx="604.5" cy="860.3" r="10.9" fill="#e2e2e2" stroke="#d2d2d2" stroke-width="0.6"/>
<text x="604.5" y="865.7" font-size="15" text-anchor="middle">C</text>
<circle cx="633.7" cy="859.3" r="10.9" fill="#e2e2e2" stroke="#d2d2d2" stroke-width="0.6"/>
<text x="633.7" y="864.7" font-size="15" text-anchor="middle">O</text>
<circle cx="560.3" cy="893.9" r="10.9" fill="#e2e2e2" stroke="#d2d2d2" stroke-width="0.6"/>
<text x="560.3" y="899.3" font-size="15" text-anchor="middle">Pt</text>
<circle cx="604.5" cy="893.9" r="10.9" fill="#e2e2e2" stroke="#d2d2d2" stroke-width="0.6"/>
<text x="604.5" y="899.3" font-size="15" text-anchor="middle">Pt</text>
<circle cx="648.7" cy="893.9" r="10.9" fill="#e2e2e2" stroke="#d2d2d2" stroke-width="0.6"/>
<text x="648.7" y="899.3" font-size="15" text-anchor="middle">Pt</text>
<line x1="636.7" y1="913.6" x2="612.5" y2="875.4" stroke="#000" stroke-width="1.2" marker-end="url(#ahs)"/>
<text x="625.6" y="928.2" font-size="15" style="fill:#fff;stroke:#fff">−0.11 e</text>
</g>
<filter id="bl1_4" filterUnits="userSpaceOnUse" x="30" y="790" width="900" height="230" color-interpolation-filters="sRGB"><feGaussianBlur stdDeviation="1.72"/></filter>
<filter id="bl2_4" filterUnits="userSpaceOnUse" x="30" y="790" width="900" height="230" color-interpolation-filters="sRGB"><feGaussianBlur stdDeviation="2.76"/></filter>
<clipPath id="hm4"><rect x="724.6" y="816.6" width="171.6" height="171.0"/></clipPath>
<g clip-path="url(#hm4)">
<g filter="url(#cmap)">
<rect x="704.6" y="796.6" width="211.6" height="211.0" fill="rgb(120,120,120)"/>
<g filter="url(#bl8)">
<ellipse cx="742.1" cy="914.6" rx="22.1" ry="26.1" fill="#fff" opacity="0.22"/>
<ellipse cx="848.7" cy="970.9" rx="32.2" ry="14.1" fill="#fff" opacity="0.2"/>
<ellipse cx="878.9" cy="934.7" rx="20.1" ry="24.1" fill="#fff" opacity="0.14"/>
<ellipse cx="830.6" cy="834.1" rx="22.1" ry="12.1" fill="#fff" opacity="0.14"/>
<ellipse cx="812.5" cy="916.6" rx="36.2" ry="42.2" fill="#fff" opacity="0.26"/>
</g>
<g filter="url(#bl4)">
<ellipse cx="760.2" cy="877.4" rx="26.1" ry="8.0" fill="#000" opacity="0.32" transform="rotate(8 760.2 877.4)"/>
<ellipse cx="876.9" cy="896.5" rx="9.0" ry="18.1" fill="#000" opacity="0.26" transform="rotate(-15 876.9 896.5)"/>
<ellipse cx="733.1" cy="951.8" rx="5.6" ry="6.0" fill="#000" opacity="0.4"/>
</g>
<g filter="url(#bl2_4)">
<ellipse cx="771.3" cy="851.2" rx="3.0" ry="3.0" fill="#fff" opacity="0.5"/>
<ellipse cx="812.5" cy="916.0" rx="14.7" ry="13.9" fill="#000" opacity="1"/>
<ellipse cx="813.9" cy="951.4" rx="22.8" ry="16.7" fill="#000" opacity="1"/>
<ellipse cx="795.4" cy="917.8" rx="6.4" ry="6.8" fill="#fff" opacity="0.5"/>
<ellipse cx="795.4" cy="917.8" rx="5.3" ry="5.7" fill="#fff" opacity="1"/>
<ellipse cx="829.8" cy="915.6" rx="4.8" ry="7.2" fill="#fff" opacity="0.5"/>
<ellipse cx="800.4" cy="936.7" rx="8.4" ry="6.0" fill="#fff" opacity="0.5" transform="rotate(-30 800.4 936.7)"/>
<ellipse cx="800.4" cy="936.7" rx="7.5" ry="5.1" fill="#fff" opacity="1" transform="rotate(-30 800.4 936.7)"/>
<ellipse cx="828.2" cy="934.3" rx="8.8" ry="6.0" fill="#fff" opacity="0.5" transform="rotate(32 828.2 934.3)"/>
<ellipse cx="828.2" cy="934.3" rx="7.9" ry="5.1" fill="#fff" opacity="1" transform="rotate(32 828.2 934.3)"/>
<ellipse cx="800.4" cy="898.9" rx="3.4" ry="2.6" fill="#fff" opacity="0.7"/>
<ellipse cx="825.0" cy="898.9" rx="3.4" ry="2.6" fill="#fff" opacity="0.7"/>
<ellipse cx="795.4" cy="867.5" rx="18.9" ry="6.2" fill="#fff" opacity="0.68" transform="rotate(12 795.4 867.5)"/>
<ellipse cx="809.5" cy="886.0" rx="26.0" ry="9.3" fill="#000" opacity="1"/>
<ellipse cx="809.5" cy="894.5" rx="19.1" ry="6.0" fill="#fff" opacity="0.45"/>
<ellipse cx="832.6" cy="846.8" rx="9.7" ry="9.7" fill="#fff" opacity="0.62"/>
<ellipse cx="832.8" cy="848.6" rx="6.9" ry="6.7" fill="#fff" opacity="1"/>
<ellipse cx="840.7" cy="873.5" rx="7.3" ry="5.1" fill="#fff" opacity="1"/>
<ellipse cx="822.6" cy="876.4" rx="8.0" ry="2.0" fill="#fff" opacity="0.6"/>
</g>
<g filter="url(#bl1_4)">
<ellipse cx="814.5" cy="931.7" rx="4.6" ry="6.8" fill="#000" opacity="1"/>
<ellipse cx="829.8" cy="915.6" rx="3.8" ry="6.0" fill="#fff" opacity="1"/>
<ellipse cx="804.1" cy="870.3" rx="8.0" ry="3.4" fill="#fff" opacity="1" transform="rotate(12 804.1 870.3)"/>
<ellipse cx="786.4" cy="855.2" rx="7.4" ry="4.0" fill="#000" opacity="1"/>
<ellipse cx="827.8" cy="866.5" rx="5.4" ry="4.0" fill="#000" opacity="1"/>
</g>
</g>
<line x1="792.0" y1="840.6" x2="813.5" y2="860.3" stroke="#7d7d7d" stroke-width="1.4"/>
<line x1="813.5" y1="860.3" x2="843.7" y2="859.3" stroke="#7d7d7d" stroke-width="1.4"/>
<line x1="813.5" y1="860.3" x2="813.5" y2="893.5" stroke="#7d7d7d" stroke-width="1.4"/>
<line x1="769.3" y1="893.5" x2="813.5" y2="893.5" stroke="#7d7d7d" stroke-width="1.4"/>
<line x1="813.5" y1="893.5" x2="857.8" y2="893.5" stroke="#7d7d7d" stroke-width="1.4"/>
<circle cx="792.0" cy="840.6" r="10.9" fill="#e2e2e2" stroke="#d2d2d2" stroke-width="0.6"/>
<text x="792.0" y="846.0" font-size="15" text-anchor="middle">C</text>
<circle cx="813.5" cy="860.3" r="10.9" fill="#e2e2e2" stroke="#d2d2d2" stroke-width="0.6"/>
<text x="813.5" y="865.7" font-size="15" text-anchor="middle">C</text>
<circle cx="843.7" cy="859.3" r="10.9" fill="#e2e2e2" stroke="#d2d2d2" stroke-width="0.6"/>
<text x="843.7" y="864.7" font-size="15" text-anchor="middle">O</text>
<circle cx="769.3" cy="893.5" r="10.9" fill="#e2e2e2" stroke="#d2d2d2" stroke-width="0.6"/>
<text x="769.3" y="898.9" font-size="15" text-anchor="middle">Fe</text>
<circle cx="813.5" cy="893.5" r="10.9" fill="#e2e2e2" stroke="#d2d2d2" stroke-width="0.6"/>
<text x="813.5" y="898.9" font-size="15" text-anchor="middle">Pt</text>
<circle cx="857.8" cy="893.5" r="10.9" fill="#e2e2e2" stroke="#d2d2d2" stroke-width="0.6"/>
<text x="857.8" y="898.9" font-size="15" text-anchor="middle">Fe</text>
<line x1="842.7" y1="914.6" x2="821.0" y2="876.0" stroke="#000" stroke-width="1.2" marker-end="url(#ahs)"/>
<text x="831.6" y="928.2" font-size="15" style="fill:#fff;stroke:#fff">−0.03 e</text>
</g>
<rect x="47.099999999999994" y="816.8" width="8.0" height="170.4" fill="url(#cbar)"/>
<line x1="39.199999999999996" y1="885.6" x2="39.199999999999996" y2="821" stroke="#000" stroke-width="1.2" marker-end="url(#ahs)"/>
<line x1="39.199999999999996" y1="918" x2="39.199999999999996" y2="984" stroke="#000" stroke-width="1.2" marker-end="url(#ahs)"/>
<text x="38.4" y="908.6" font-size="18.4" text-anchor="middle" >0</text>
<text transform="translate(28.199999999999996,852.5) rotate(-90)" font-size="17.2" text-anchor="middle">Obtain</text>
<text transform="translate(28.199999999999996,951.5) rotate(-90)" font-size="17.2" text-anchor="middle">Loss</text>
<rect x="503.1" y="816.8" width="8.0" height="170.4" fill="url(#cbar)"/>
<line x1="495.2" y1="885.6" x2="495.2" y2="821" stroke="#000" stroke-width="1.2" marker-end="url(#ahs)"/>
<line x1="495.2" y1="918" x2="495.2" y2="984" stroke="#000" stroke-width="1.2" marker-end="url(#ahs)"/>
<text x="494.40000000000003" y="908.6" font-size="18.4" text-anchor="middle" >0</text>
<text transform="translate(484.2,852.5) rotate(-90)" font-size="17.2" text-anchor="middle">Obtain</text>
<text transform="translate(484.2,951.5) rotate(-90)" font-size="17.2" text-anchor="middle">Loss</text>
<text x="3.6" y="813.4" font-size="29.5" text-anchor="start" >d</text>
<text x="464.0" y="813.4" font-size="29.5" text-anchor="start" >e</text>
<text x="147.0" y="1013.1" font-size="17.55" text-anchor="middle" >CH<tspan dy="3.6" font-size="64%">2</tspan><tspan dy="-3.6">OH-CHOH+*OH</tspan></text>
<text x="355.6" y="1013.1" font-size="17.55" text-anchor="middle" >CH<tspan dy="3.6" font-size="64%">2</tspan><tspan dy="-3.6">OH-CHOH+*OH</tspan></text>
<text x="602.8" y="1013.1" font-size="17.55" text-anchor="middle" >CH<tspan dy="3.6" font-size="64%">2</tspan><tspan dy="-3.6">OH-CO</tspan></text>
<text x="810.2" y="1013.1" font-size="17.55" text-anchor="middle" >CH<tspan dy="3.6" font-size="64%">2</tspan><tspan dy="-3.6">OH-CO</tspan></text>
</svg></body></html>
